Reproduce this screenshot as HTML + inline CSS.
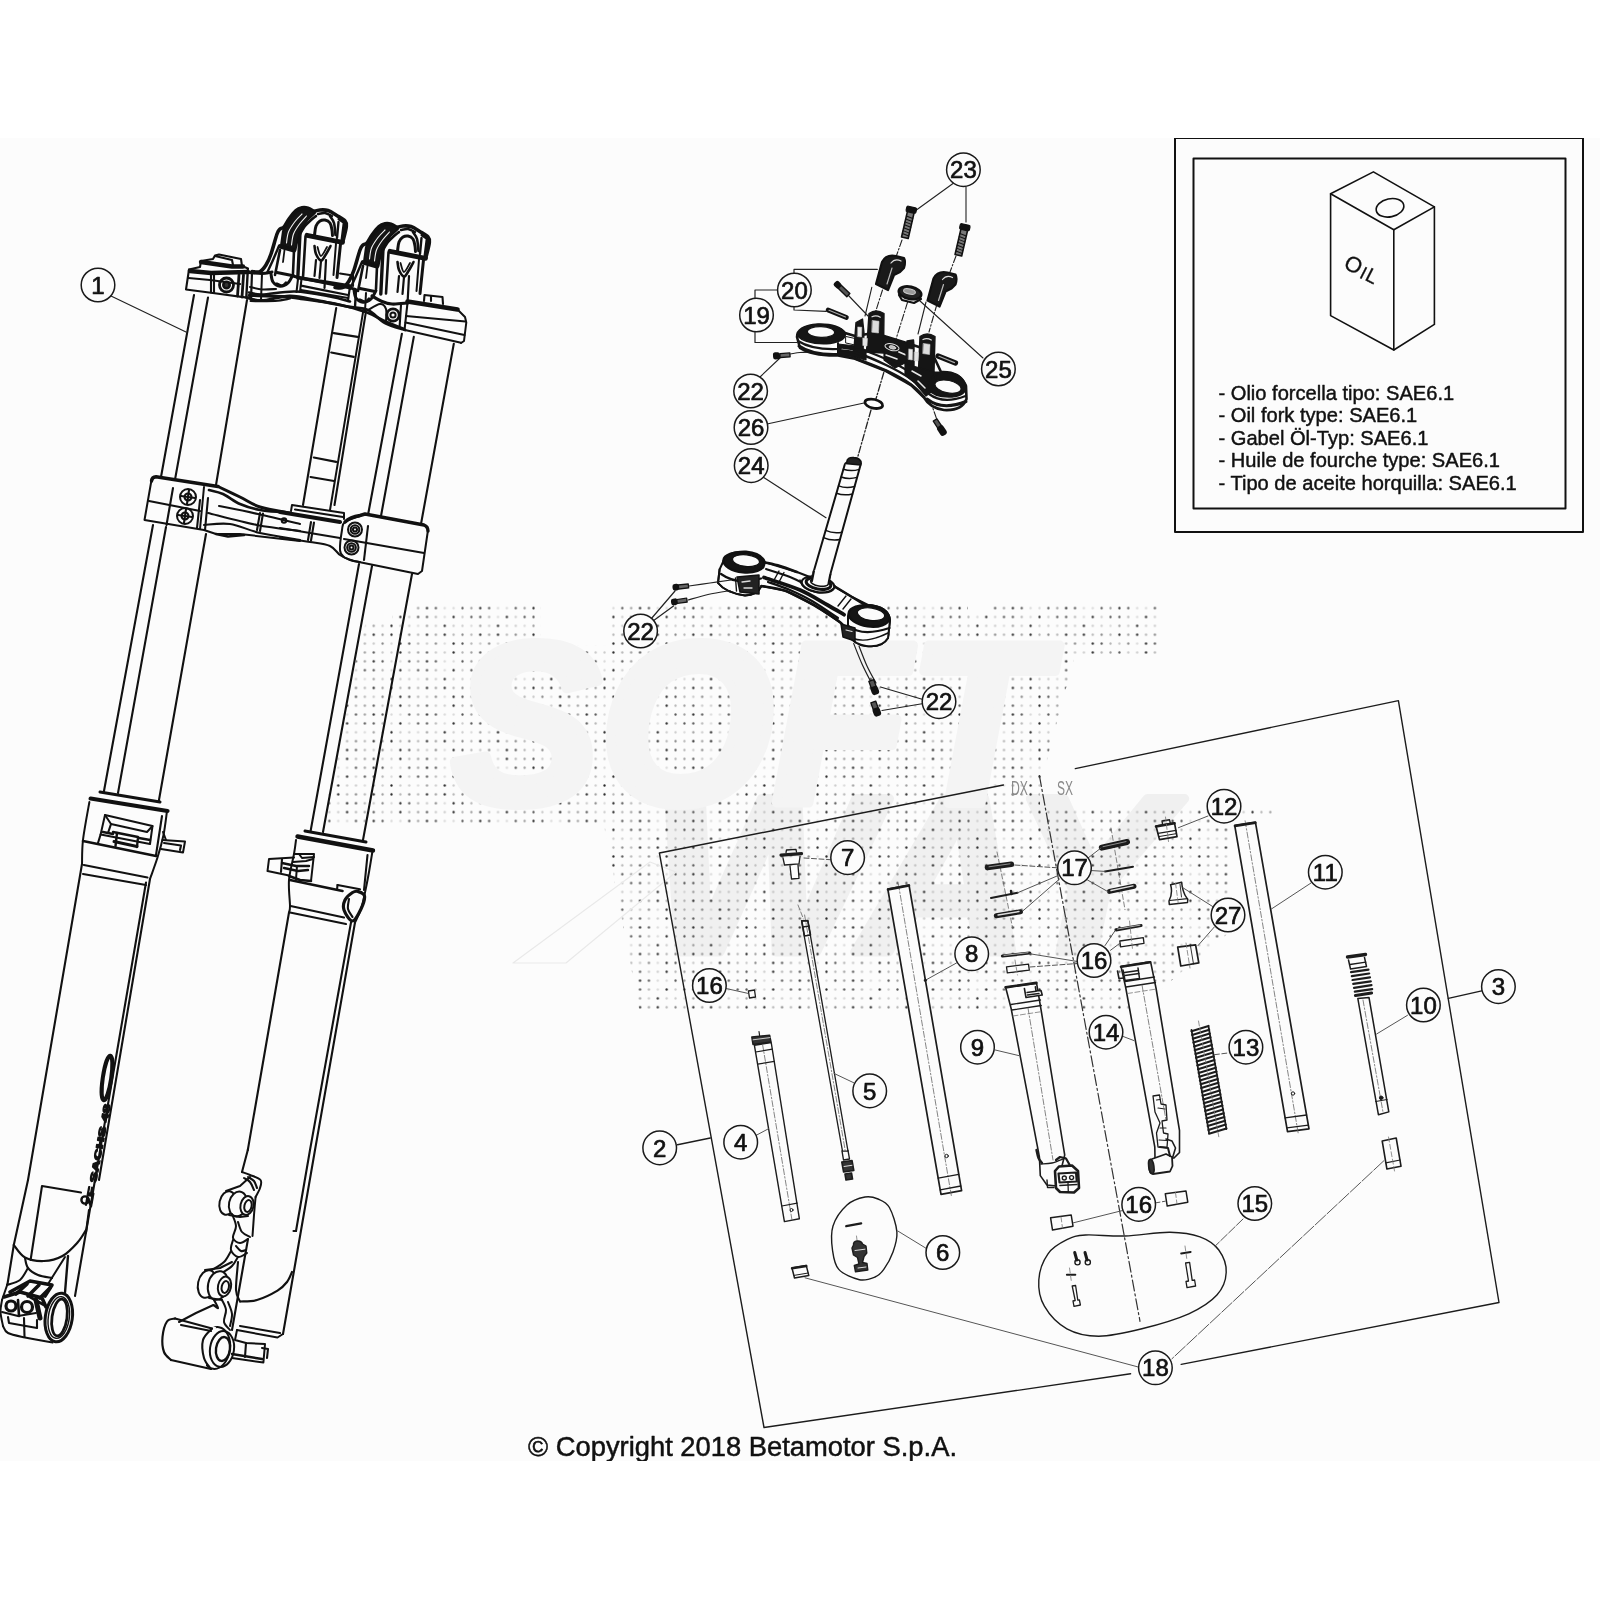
<!DOCTYPE html>
<html><head><meta charset="utf-8"><title>Fork diagram</title>
<style>
html,body{margin:0;padding:0;background:#fff;}
body{width:1600px;height:1600px;overflow:hidden;position:relative;font-family:"Liberation Sans",sans-serif;}
#band{position:absolute;left:0;top:138px;width:1600px;height:1323px;background:#fcfcfc;overflow:hidden;}
svg{position:absolute;left:0;top:-138px;will-change:transform;}
.lb{font-family:"Liberation Sans",sans-serif;font-size:24px;text-anchor:middle;fill:#111;stroke:#111;stroke-width:0.7px;}
.tx{font-family:"Liberation Sans",sans-serif;font-size:20.1px;fill:#111;stroke:#111;stroke-width:0.45px;}
.cp{font-family:"Liberation Sans",sans-serif;font-size:27.35px;fill:#111;stroke:#111;stroke-width:0.5px;}
</style></head><body>
<div id="band">
<svg width="1600" height="1600" viewBox="0 0 1600 1600" stroke-linecap="round" stroke-linejoin="round">
<defs><pattern id="dots" patternUnits="userSpaceOnUse" x="-3.54" y="0.51" width="53.262" height="53.220">
<g transform="translate(4.44 4.43)"><circle cx="0.00" cy="0.00" r="1.15" fill="#111" fill-opacity="0.22"/><circle cx="8.88" cy="0.00" r="1.15" fill="#111" fill-opacity="0.50"/><circle cx="17.75" cy="0.00" r="1.15" fill="#111" fill-opacity="0.15"/><circle cx="26.63" cy="0.00" r="1.15" fill="#111" fill-opacity="0.90"/><circle cx="35.51" cy="0.00" r="1.15" fill="#111" fill-opacity="0.70"/><circle cx="44.39" cy="0.00" r="1.15" fill="#111" fill-opacity="0.30"/><circle cx="0.00" cy="8.87" r="1.15" fill="#111" fill-opacity="0.70"/><circle cx="8.88" cy="8.87" r="1.15" fill="#111" fill-opacity="0.22"/><circle cx="17.75" cy="8.87" r="1.15" fill="#111" fill-opacity="0.20"/><circle cx="26.63" cy="8.87" r="1.15" fill="#111" fill-opacity="0.90"/><circle cx="35.51" cy="8.87" r="1.15" fill="#111" fill-opacity="0.30"/><circle cx="44.39" cy="8.87" r="1.15" fill="#111" fill-opacity="0.40"/><circle cx="0.00" cy="17.74" r="1.15" fill="#111" fill-opacity="0.90"/><circle cx="8.88" cy="17.74" r="1.15" fill="#111" fill-opacity="0.70"/><circle cx="17.75" cy="17.74" r="1.15" fill="#111" fill-opacity="0.15"/><circle cx="26.63" cy="17.74" r="1.15" fill="#111" fill-opacity="0.15"/><circle cx="35.51" cy="17.74" r="1.15" fill="#111" fill-opacity="0.70"/><circle cx="44.39" cy="17.74" r="1.15" fill="#111" fill-opacity="0.40"/><circle cx="0.00" cy="26.61" r="1.15" fill="#111" fill-opacity="0.70"/><circle cx="8.88" cy="26.61" r="1.15" fill="#111" fill-opacity="0.30"/><circle cx="17.75" cy="26.61" r="1.15" fill="#111" fill-opacity="0.15"/><circle cx="26.63" cy="26.61" r="1.15" fill="#111" fill-opacity="0.90"/><circle cx="35.51" cy="26.61" r="1.15" fill="#111" fill-opacity="0.20"/><circle cx="44.39" cy="26.61" r="1.15" fill="#111" fill-opacity="0.70"/><circle cx="0.00" cy="35.48" r="1.15" fill="#111" fill-opacity="0.40"/><circle cx="8.88" cy="35.48" r="1.15" fill="#111" fill-opacity="0.20"/><circle cx="17.75" cy="35.48" r="1.15" fill="#111" fill-opacity="0.90"/><circle cx="26.63" cy="35.48" r="1.15" fill="#111" fill-opacity="0.20"/><circle cx="35.51" cy="35.48" r="1.15" fill="#111" fill-opacity="0.20"/><circle cx="44.39" cy="35.48" r="1.15" fill="#111" fill-opacity="0.15"/><circle cx="0.00" cy="44.35" r="1.15" fill="#111" fill-opacity="0.90"/><circle cx="8.88" cy="44.35" r="1.15" fill="#111" fill-opacity="0.40"/><circle cx="17.75" cy="44.35" r="1.15" fill="#111" fill-opacity="0.90"/><circle cx="26.63" cy="44.35" r="1.15" fill="#111" fill-opacity="0.30"/><circle cx="35.51" cy="44.35" r="1.15" fill="#111" fill-opacity="0.50"/><circle cx="44.39" cy="44.35" r="1.15" fill="#111" fill-opacity="0.30"/></g>
</pattern></defs>
<text x="652" y="952" font-family="Liberation Sans, sans-serif" font-weight="bold" font-style="italic" font-size="222" fill="#f0f0f0" stroke="#f0f0f0" stroke-width="9" textLength="515" lengthAdjust="spacingAndGlyphs">WAY</text>
<path d="M416 603 L541 603 L541 645 L607 645 L607 603 L968 603 L968 612 L990 612 L990 603 L1158 603 L1158 655 L1075 655 L1052 740 L1040 790 L1040 806 L1275 806 L1275 815 L1232 815 L1232 930 L1160 990 L1160 1014 L640 1014 L604 826 L322 826 L340 740 L356 660 L366 621 L392 621 L392 612 L416 612 Z" fill="url(#dots)"/>
<text x="452" y="803" font-family="Liberation Sans, sans-serif" font-weight="bold" font-style="italic" font-size="228" fill="#f4f4f4" stroke="#f4f4f4" stroke-width="10" textLength="592" lengthAdjust="spacingAndGlyphs">SOFT</text>
<path d="M513 963 L566 963 L676 872 L650 862 Z" fill="none" stroke="#e9e9e9" stroke-width="1.2" />
<rect x="1175" y="138" width="408" height="394" fill="none" stroke="#111" stroke-width="2"/>
<rect x="1193.5" y="158.5" width="372" height="350" fill="none" stroke="#111" stroke-width="2"/>
<path d="M1373.4 171.9 L1330.6 193.8 L1393.8 229.7 L1434.4 206.9 Z" fill="none" stroke="#111" stroke-width="1.6" />
<path d="M1330.6 193.8 L1330.6 315.6 L1393.8 350 L1434.4 324.4 L1434.4 206.9" fill="none" stroke="#111" stroke-width="1.6" />
<line x1="1393.8" y1="229.7" x2="1393.8" y2="350" stroke="#111" stroke-width="1.6" />
<ellipse cx="1390" cy="207.8" rx="14" ry="9" fill="none" stroke="#111" stroke-width="1.6" transform="rotate(-12 1390 207.8)" />
<text transform="translate(1342.5 267.5) rotate(27)" font-family="Liberation Sans, sans-serif" font-size="20" fill="#111" stroke="#111" stroke-width="0.3"><tspan font-size="22">O</tspan><tspan dx="1.5" dy="1.5" font-size="18">I</tspan><tspan dx="1" dy="-0.5" font-size="20">L</tspan></text>
<text x="1218.5" y="400.0" class="tx">- Olio forcella tipo: SAE6.1</text>
<text x="1218.5" y="422.4" class="tx">- Oil fork type: SAE6.1</text>
<text x="1218.5" y="444.8" class="tx">- Gabel Öl-Typ: SAE6.1</text>
<text x="1218.5" y="467.2" class="tx">- Huile de fourche type: SAE6.1</text>
<text x="1218.5" y="489.6" class="tx">- Tipo de aceite horquilla: SAE6.1</text>
<text x="528" y="1456.3" class="cp">© Copyright 2018 Betamotor S.p.A.</text>
<line x1="194" y1="295" x2="161" y2="477" stroke="#111" stroke-width="2.1" />
<line x1="153" y1="525" x2="103.8" y2="792" stroke="#111" stroke-width="2.1" />
<line x1="208" y1="297.5" x2="175.3" y2="478" stroke="#111" stroke-width="2.1" />
<line x1="166" y1="527" x2="118" y2="793" stroke="#111" stroke-width="2.1" />
<line x1="247" y1="300" x2="216" y2="485" stroke="#111" stroke-width="2.1" />
<line x1="206" y1="534" x2="158.8" y2="801" stroke="#111" stroke-width="2.1" />
<line x1="401.9" y1="333.8" x2="368" y2="515" stroke="#111" stroke-width="2.1" />
<line x1="359" y1="564" x2="310.6" y2="831" stroke="#111" stroke-width="2.1" />
<line x1="413.8" y1="336.9" x2="381" y2="516" stroke="#111" stroke-width="2.1" />
<line x1="372" y1="566" x2="323" y2="832" stroke="#111" stroke-width="2.1" />
<line x1="453.8" y1="343.8" x2="421" y2="524" stroke="#111" stroke-width="2.1" />
<line x1="412" y1="574" x2="363" y2="840" stroke="#111" stroke-width="2.1" />
<line x1="336.2" y1="308.1" x2="303" y2="505" stroke="#111" stroke-width="2.1" />
<line x1="363.1" y1="311.9" x2="330" y2="510" stroke="#111" stroke-width="2" />
<line x1="365.6" y1="313.8" x2="334.5" y2="505" stroke="#111" stroke-width="2.1" />
<line x1="333.8" y1="333.1" x2="357.5" y2="336.9" stroke="#111" stroke-width="2.1" />
<line x1="331.2" y1="352.5" x2="353.8" y2="356.9" stroke="#111" stroke-width="2.1" />
<line x1="313.8" y1="457.5" x2="336.2" y2="461.9" stroke="#111" stroke-width="2.1" />
<line x1="310.5" y1="477" x2="334" y2="481" stroke="#111" stroke-width="2.1" />
<path d="M189 269.5 L186 289.5 L211 292.8 L247 297.6" fill="none" stroke="#111" stroke-width="2.1" />
<path d="M188.5 278 L210 280 L240 284" fill="none" stroke="#111" stroke-width="2.1" />
<path d="M189 269.5 L200 267 L201 261 L213 259 L215 255.5 L219 254.5 L241 259 L242 266 L248 268.5" fill="none" stroke="#111" stroke-width="2.1" />
<path d="M201 262 L232 266.5 L243 266.5" fill="none" stroke="#111" stroke-width="4.4" />
<path d="M190 271 L211 273 L248 272" fill="none" stroke="#111" stroke-width="4.6" />
<path d="M215 256 L232 260 L233 265" fill="none" stroke="#111" stroke-width="2.1" />
<line x1="211" y1="272" x2="211" y2="292.5" stroke="#111" stroke-width="2.1" />
<line x1="214" y1="273" x2="214" y2="293" stroke="#111" stroke-width="2.1" />
<circle cx="226.5" cy="285" r="7" fill="none" stroke="#111" stroke-width="2.8"/>
<circle cx="226.5" cy="285" r="3.2" fill="#333" stroke="#111" stroke-width="2.6"/>
<line x1="239" y1="275" x2="237.5" y2="296" stroke="#111" stroke-width="2.8" />
<line x1="243.5" y1="275" x2="242" y2="297" stroke="#111" stroke-width="2.8" />
<line x1="247.8" y1="270" x2="246.3" y2="297.5" stroke="#111" stroke-width="2.4" />
<path d="M247 297.6 C249.5 298.1 254.8 300.8 262 300.5 C269.2 300.2 280.3 295.9 290 296 C299.7 296.1 310 299.2 320 301 C330 302.8 342 305.5 350 307 C358 308.5 362.2 307.3 368 310 C373.8 312.7 378.8 319.7 385 323 C391.2 326.3 401.7 328.8 405 330" fill="none" stroke="#111" stroke-width="2.8" />
<path d="M249 292.5 C251.2 292.8 254.3 294.7 262 294.5 C269.7 294.3 283.7 291.2 295 291.5 C306.3 291.8 320.8 294.8 330 296.5 C339.2 298.2 346.7 300.7 350 301.5" fill="none" stroke="#111" stroke-width="2.6" />
<path d="M250 287 C252 287.4 257.7 289.2 262 289.5 C266.3 289.8 273.7 289.1 276 289" fill="none" stroke="#111" stroke-width="2.1" />
<path d="M300 278 L350 286" fill="none" stroke="#111" stroke-width="3.6" />
<path d="M301 290 L348 298" fill="none" stroke="#111" stroke-width="2.1" />
<path d="M298 279 L296.5 292" fill="none" stroke="#111" stroke-width="2.1" />
<path d="M301.5 279 L300 292" fill="none" stroke="#111" stroke-width="2.1" />
<path d="M350 286 L348 301" fill="none" stroke="#111" stroke-width="2.1" />
<path d="M249 272.5 C251.2 272.7 258.2 273.6 262 273.5 C265.8 273.4 270.3 272.2 272 272" fill="none" stroke="#111" stroke-width="3" />
<path d="M293 276 C294.3 276.3 291.8 276.1 301 278 C310.2 279.9 338.8 285.5 348 287.5 C357.2 289.5 354.7 289.6 356 290" fill="none" stroke="#111" stroke-width="3.2" />
<path d="M301 285.6 C308.8 287.2 340.2 293.4 348 295" fill="none" stroke="#111" stroke-width="2.2" />
<path d="M249 295.5 C254.6 295.7 273.8 296 282.5 296.5 C291.2 297 291.6 297.4 301 298.8 C310.4 300.1 327.8 302.2 338.8 304.5 C349.8 306.8 359.2 309.7 367 312.5 C374.8 315.3 379.4 318.8 385.6 321.5 C391.8 324.2 400.9 327.8 404 329" fill="none" stroke="#111" stroke-width="2.8" />
<path d="M250.6 301 C254.7 301 268.4 301.4 275 301 C281.6 300.6 287.5 298.9 290 298.5" fill="none" stroke="#111" stroke-width="2.2" />
<path d="M252 273 L251 299" fill="none" stroke="#111" stroke-width="2.2" />
<path d="M262 274 L261 300" fill="none" stroke="#111" stroke-width="2" />
<path d="M356 290 L355 307" fill="none" stroke="#111" stroke-width="2.4" />
<path d="M366 293 L365 311" fill="none" stroke="#111" stroke-width="2" />
<g transform="translate(0 0)">
<path d="M252 271.5 C253.3 271.5 257.7 272.6 260 271.5 C262.3 270.4 264.2 267.9 266 265 C267.8 262.1 269.2 259.2 271 254 C272.8 248.8 275.5 238.2 277 234 C278.5 229.8 278.8 230.2 280 229 C281.2 227.8 282.5 228.7 284 227 C285.5 225.3 287 221.8 289 219 C291 216.2 293.8 212.4 296 210.5 C298.2 208.6 300 208.2 302 207.8 C304 207.4 306 207.6 308 208.2 C310 208.8 313 210.9 314 211.5" fill="none" stroke="#111" stroke-width="3.6" />
<path d="M314 211.5 C315 211.2 317.7 210.2 320 210 C322.3 209.8 325.3 209.7 328 210.5 C330.7 211.3 333.2 213.2 336 215 C338.8 216.8 343.3 219.1 345 221 C346.7 222.9 346.6 223.2 346.3 226.5 C346 229.8 343.6 238.6 343 241" fill="none" stroke="#111" stroke-width="3.6" />
<path d="M267 273 C268 270.8 271 264.5 273 260 C275 255.5 278 248.3 279 246" fill="none" stroke="#111" stroke-width="2.4" />
<path d="M281 245.5 L283 231 L290 219.5 L297 211.5 L303 208.5 L309 209 L315 213 L308 219.5 L302 228 L298 238 L295.5 250 Z" fill="#151515" stroke="#111" stroke-width="2" />
<path d="M286.5 243 C286.8 241.2 287.1 235.6 288.5 232 C289.9 228.4 292.8 224.5 295 221.5 C297.2 218.5 300.8 215.2 302 214" fill="none" stroke="#f4f4f4" stroke-width="1.1" />
<path d="M291.5 245 C291.8 243.2 292.2 237.5 293.5 234 C294.8 230.5 297.3 227 299.5 224 C301.7 221 305.3 217.3 306.5 216" fill="none" stroke="#f4f4f4" stroke-width="1.1" />
<path d="M300 234 C300.8 232.7 303.2 228.3 305 226 C306.8 223.7 309.2 221.7 311 220 C312.8 218.3 315.2 216.7 316 216" fill="none" stroke="#111" stroke-width="2.6" />
<path d="M280 246.3 L294 250.3" fill="none" stroke="#111" stroke-width="4.4" />
<path d="M314.5 235 C314.8 233.5 315.1 228.3 316 226 C316.9 223.7 318.5 222 320 221 C321.5 220 323.3 219.7 325 220 C326.7 220.3 328.8 221.3 330 223 C331.2 224.7 331.6 227.9 332 230 C332.4 232.1 332.4 234.6 332.5 235.5" fill="none" stroke="#111" stroke-width="3" />
<path d="M330 216 C330.7 217.2 333.1 219.8 334 223 C334.9 226.2 335.2 233 335.5 235" fill="none" stroke="#111" stroke-width="2.6" />
<path d="M318 214 C319.2 213.8 322.7 212.7 325 213 C327.3 213.3 330.8 215.5 332 216" fill="none" stroke="#111" stroke-width="2.4" />
<path d="M307 235.3 L342.5 242.3" fill="none" stroke="#111" stroke-width="4.8" />
<path d="M339 219 L344.2 222.5 L342 240" fill="none" stroke="#111" stroke-width="3" />
<path d="M337 238 L338.5 222" fill="none" stroke="#111" stroke-width="2.4" />
<path d="M314.5 246 C314.8 247.3 314.9 251.6 316 254 C317.1 256.4 319.4 260.3 321 260.5 C322.6 260.7 323.9 257.4 325.5 255 C327.1 252.6 329.7 247.5 330.5 246" fill="none" stroke="#111" stroke-width="2.6" />
<path d="M317.5 247 C318.1 248.5 319.4 256 321 256 C322.6 256 326 248.5 327 247" fill="none" stroke="#111" stroke-width="1.8" />
<path d="M316 260 L314.5 276" fill="none" stroke="#111" stroke-width="2.2" />
<path d="M321 261 L319.5 278" fill="none" stroke="#111" stroke-width="2.2" />
<path d="M326 260 L324.5 288" fill="none" stroke="#111" stroke-width="2.2" />
<path d="M300 233 L297.8 278" fill="none" stroke="#111" stroke-width="3.4" />
<path d="M305.5 236.5 L303 277.5" fill="none" stroke="#111" stroke-width="2.6" />
<path d="M340.5 244 L337 277.5" fill="none" stroke="#111" stroke-width="3" />
<path d="M336 243.5 L333.5 275" fill="none" stroke="#111" stroke-width="2" />
<path d="M280 250 L275 275" fill="none" stroke="#111" stroke-width="2.6" />
<path d="M294 250.5 L293 273" fill="none" stroke="#111" stroke-width="2.6" />
<path d="M284.5 250 L283 262" fill="none" stroke="#111" stroke-width="1.8" />
<path d="M271 274 C271.3 275.3 271.5 279.9 273 282 C274.5 284.1 277.5 286.1 280 286.3 C282.5 286.5 285.8 285 288 283 C290.2 281 292.2 275.9 293 274.5" fill="none" stroke="#111" stroke-width="3" />
<path d="M277 283.5 C277.8 283.8 280.5 285.7 282 285.5 C283.5 285.3 285.3 283 286 282.5" fill="none" stroke="#111" stroke-width="2.2" />
<path d="M277 272.5 L292 275.5" fill="none" stroke="#111" stroke-width="3" />
</g>
<g transform="translate(83 16)">
<path d="M252 271.5 C253.3 271.5 257.7 272.6 260 271.5 C262.3 270.4 264.2 267.9 266 265 C267.8 262.1 269.2 259.2 271 254 C272.8 248.8 275.5 238.2 277 234 C278.5 229.8 278.8 230.2 280 229 C281.2 227.8 282.5 228.7 284 227 C285.5 225.3 287 221.8 289 219 C291 216.2 293.8 212.4 296 210.5 C298.2 208.6 300 208.2 302 207.8 C304 207.4 306 207.6 308 208.2 C310 208.8 313 210.9 314 211.5" fill="none" stroke="#111" stroke-width="3.6" />
<path d="M314 211.5 C315 211.2 317.7 210.2 320 210 C322.3 209.8 325.3 209.7 328 210.5 C330.7 211.3 333.2 213.2 336 215 C338.8 216.8 343.3 219.1 345 221 C346.7 222.9 346.6 223.2 346.3 226.5 C346 229.8 343.6 238.6 343 241" fill="none" stroke="#111" stroke-width="3.6" />
<path d="M267 273 C268 270.8 271 264.5 273 260 C275 255.5 278 248.3 279 246" fill="none" stroke="#111" stroke-width="2.4" />
<path d="M281 245.5 L283 231 L290 219.5 L297 211.5 L303 208.5 L309 209 L315 213 L308 219.5 L302 228 L298 238 L295.5 250 Z" fill="#151515" stroke="#111" stroke-width="2" />
<path d="M286.5 243 C286.8 241.2 287.1 235.6 288.5 232 C289.9 228.4 292.8 224.5 295 221.5 C297.2 218.5 300.8 215.2 302 214" fill="none" stroke="#f4f4f4" stroke-width="1.1" />
<path d="M291.5 245 C291.8 243.2 292.2 237.5 293.5 234 C294.8 230.5 297.3 227 299.5 224 C301.7 221 305.3 217.3 306.5 216" fill="none" stroke="#f4f4f4" stroke-width="1.1" />
<path d="M300 234 C300.8 232.7 303.2 228.3 305 226 C306.8 223.7 309.2 221.7 311 220 C312.8 218.3 315.2 216.7 316 216" fill="none" stroke="#111" stroke-width="2.6" />
<path d="M280 246.3 L294 250.3" fill="none" stroke="#111" stroke-width="4.4" />
<path d="M314.5 235 C314.8 233.5 315.1 228.3 316 226 C316.9 223.7 318.5 222 320 221 C321.5 220 323.3 219.7 325 220 C326.7 220.3 328.8 221.3 330 223 C331.2 224.7 331.6 227.9 332 230 C332.4 232.1 332.4 234.6 332.5 235.5" fill="none" stroke="#111" stroke-width="3" />
<path d="M330 216 C330.7 217.2 333.1 219.8 334 223 C334.9 226.2 335.2 233 335.5 235" fill="none" stroke="#111" stroke-width="2.6" />
<path d="M318 214 C319.2 213.8 322.7 212.7 325 213 C327.3 213.3 330.8 215.5 332 216" fill="none" stroke="#111" stroke-width="2.4" />
<path d="M307 235.3 L342.5 242.3" fill="none" stroke="#111" stroke-width="4.8" />
<path d="M339 219 L344.2 222.5 L342 240" fill="none" stroke="#111" stroke-width="3" />
<path d="M337 238 L338.5 222" fill="none" stroke="#111" stroke-width="2.4" />
<path d="M314.5 246 C314.8 247.3 314.9 251.6 316 254 C317.1 256.4 319.4 260.3 321 260.5 C322.6 260.7 323.9 257.4 325.5 255 C327.1 252.6 329.7 247.5 330.5 246" fill="none" stroke="#111" stroke-width="2.6" />
<path d="M317.5 247 C318.1 248.5 319.4 256 321 256 C322.6 256 326 248.5 327 247" fill="none" stroke="#111" stroke-width="1.8" />
<path d="M316 260 L314.5 276" fill="none" stroke="#111" stroke-width="2.2" />
<path d="M321 261 L319.5 278" fill="none" stroke="#111" stroke-width="2.2" />
<path d="M326 260 L324.5 288" fill="none" stroke="#111" stroke-width="2.2" />
<path d="M300 233 L297.8 278" fill="none" stroke="#111" stroke-width="3.4" />
<path d="M305.5 236.5 L303 277.5" fill="none" stroke="#111" stroke-width="2.6" />
<path d="M340.5 244 L337 277.5" fill="none" stroke="#111" stroke-width="3" />
<path d="M336 243.5 L333.5 275" fill="none" stroke="#111" stroke-width="2" />
<path d="M280 250 L275 275" fill="none" stroke="#111" stroke-width="2.6" />
<path d="M294 250.5 L293 273" fill="none" stroke="#111" stroke-width="2.6" />
<path d="M284.5 250 L283 262" fill="none" stroke="#111" stroke-width="1.8" />
<path d="M271 274 C271.3 275.3 271.5 279.9 273 282 C274.5 284.1 277.5 286.1 280 286.3 C282.5 286.5 285.8 285 288 283 C290.2 281 292.2 275.9 293 274.5" fill="none" stroke="#111" stroke-width="3" />
<path d="M277 283.5 C277.8 283.8 280.5 285.7 282 285.5 C283.5 285.3 285.3 283 286 282.5" fill="none" stroke="#111" stroke-width="2.2" />
<path d="M277 272.5 L292 275.5" fill="none" stroke="#111" stroke-width="3" />
</g>
<path d="M340 273.5 L353 275.5 L353 286" fill="none" stroke="#111" stroke-width="2.1" />
<path d="M407.5 301.5 L457.5 309.5" fill="none" stroke="#111" stroke-width="4.6" />
<path d="M424 301 L424.5 295 L442.5 297 L443 304" fill="none" stroke="#111" stroke-width="2.1" />
<path d="M431 296 L431 301" fill="none" stroke="#111" stroke-width="2.1" />
<path d="M457.5 309.5 L465 317 L466.3 322.5 L464 341 L461 343" fill="none" stroke="#111" stroke-width="2" />
<path d="M405 330 L461 342.8" fill="none" stroke="#111" stroke-width="2" />
<path d="M406 316 L465.5 321.5" fill="none" stroke="#111" stroke-width="2.1" />
<path d="M405.5 322.5 L464.5 335" fill="none" stroke="#111" stroke-width="2.1" />
<path d="M407.5 303 L404.5 330" fill="none" stroke="#111" stroke-width="2.1" />
<path d="M372 296 C373.5 296.8 377.7 299.7 381 301 C384.3 302.3 387.7 303.7 392 304 C396.3 304.3 404.5 303.2 407 303" fill="none" stroke="#111" stroke-width="3.2" />
<path d="M368 310 C370 309 377 304.2 380 304 C383 303.8 385 306 386 309 C387 312 386 319.8 386 322" fill="none" stroke="#111" stroke-width="2.1" />
<circle cx="393" cy="315" r="6.2" fill="none" stroke="#111" stroke-width="2.8"/>
<circle cx="393" cy="315" r="2.6" fill="none" stroke="#111" stroke-width="2"/>
<path d="M401 305 L399.5 328" fill="none" stroke="#111" stroke-width="2.1" />
<path d="M151.5 481 Q152 477 156 476.8 L218 486.5" fill="none" stroke="#111" stroke-width="3.4" />
<path d="M151.5 480 L144.5 520 L204 530 L216 534 L240 534 L300 541" fill="none" stroke="#111" stroke-width="2" />
<path d="M149 501 L200 511" fill="none" stroke="#111" stroke-width="2.1" />
<path d="M173 488 L166.5 525" fill="none" stroke="#111" stroke-width="2.1" />
<circle cx="188" cy="497" r="8" fill="none" stroke="#111" stroke-width="2"/>
<line x1="181" y1="496" x2="195" y2="498" stroke="#111" stroke-width="2.1" />
<line x1="189" y1="490" x2="187" y2="504" stroke="#111" stroke-width="2.1" />
<circle cx="188" cy="497" r="3.5" fill="none" stroke="#111" stroke-width="2.1"/>
<circle cx="185" cy="516" r="8" fill="none" stroke="#111" stroke-width="2"/>
<line x1="178" y1="515" x2="192" y2="517" stroke="#111" stroke-width="2.1" />
<line x1="186" y1="509" x2="184" y2="523" stroke="#111" stroke-width="2.1" />
<circle cx="185" cy="516" r="3.5" fill="none" stroke="#111" stroke-width="2.1"/>
<path d="M200 500 L197 528" fill="none" stroke="#111" stroke-width="2.1" />
<path d="M204 487 L200 529" fill="none" stroke="#111" stroke-width="2" />
<path d="M208 498 L205 530" fill="none" stroke="#111" stroke-width="2.1" />
<path d="M218 486.5 C221.7 488.2 233 493.6 240 497 C247 500.4 251.7 504.3 260 507 C268.3 509.7 285 512 290 513" fill="none" stroke="#111" stroke-width="3" />
<path d="M209 490 C211.3 490.7 217.8 491.7 223 494 C228.2 496.3 233.8 501.3 240 504 C246.2 506.7 253.3 508.7 260 510 C266.7 511.3 276.7 511.7 280 512" fill="none" stroke="#111" stroke-width="2.6" />
<path d="M219 506 C225.5 507.3 244.5 511 258 514 C271.5 517 293 522.3 300 524" fill="none" stroke="#111" stroke-width="2.1" />
<path d="M208 513 C216.2 515 241.7 522 257 525 C272.3 528 292.8 530 300 531" fill="none" stroke="#111" stroke-width="2.1" />
<path d="M204 525 C208.3 524.8 220.7 522.7 230 524 C239.3 525.3 248.3 530.3 260 533 C271.7 535.7 293.3 538.8 300 540" fill="none" stroke="#111" stroke-width="2.1" />
<path d="M260 513 L257 530" fill="none" stroke="#111" stroke-width="2.1" />
<path d="M263 513.5 L260 531" fill="none" stroke="#111" stroke-width="2.1" />
<path d="M216 534 L228 536.5 L244 535" fill="none" stroke="#111" stroke-width="2.6" />
<path d="M291 511 L292 505 L344 513 L344 519" fill="none" stroke="#111" stroke-width="2" />
<path d="M295 509.5 L343 517" fill="none" stroke="#111" stroke-width="2.1" />
<path d="M280 512 L340 522" fill="none" stroke="#111" stroke-width="4" />
<path d="M280 528 L340 538" fill="none" stroke="#111" stroke-width="2.1" />
<path d="M280 538 C285 538.7 301.7 540.7 310 542 C318.3 543.3 325 543.8 330 546 C335 548.2 336.7 552.7 340 555 C343.3 557.3 346.7 558.8 350 560 C353.3 561.2 358.3 561.7 360 562" fill="none" stroke="#111" stroke-width="2" />
<path d="M311 522 L308 540" fill="none" stroke="#111" stroke-width="2.1" />
<path d="M314 522.5 L311 540.5" fill="none" stroke="#111" stroke-width="2.1" />
<circle cx="284" cy="520.5" r="2.2" fill="none" stroke="#111" stroke-width="2.1"/>
<path d="M345 522 Q350 517 360 515.5 L365 514 L424 525 Q428 526.5 428 531" fill="none" stroke="#111" stroke-width="3.4" />
<path d="M428 530 L422 571 L418 574 L354 561" fill="none" stroke="#111" stroke-width="2" />
<path d="M360 516 C357.5 517 348 519.7 345 522 C342 524.3 342.8 525.3 342 530 C341.2 534.7 339.7 545.5 340 550 C340.3 554.5 341.7 555.2 344 557 C346.3 558.8 352.3 560.3 354 561" fill="none" stroke="#111" stroke-width="2" />
<path d="M344 539 L424 553" fill="none" stroke="#111" stroke-width="2.1" />
<path d="M368 526 L364 560" fill="none" stroke="#111" stroke-width="2.1" />
<circle cx="355" cy="529.5" r="7" fill="none" stroke="#111" stroke-width="2"/>
<circle cx="355" cy="529.5" r="4.3" fill="none" stroke="#111" stroke-width="2.1"/>
<circle cx="355" cy="529.5" r="2" fill="none" stroke="#111" stroke-width="2.1"/>
<circle cx="351.5" cy="547.5" r="7" fill="none" stroke="#111" stroke-width="2"/>
<circle cx="351.5" cy="547.5" r="4.3" fill="none" stroke="#111" stroke-width="2.1"/>
<circle cx="351.5" cy="547.5" r="2" fill="none" stroke="#111" stroke-width="2.1"/>
<path d="M100 792 L160 802" fill="none" stroke="#111" stroke-width="3" />
<path d="M90.6 798.5 L167.5 811" fill="none" stroke="#111" stroke-width="4.2" />
<path d="M89.4 802 C88.3 808.3 84.2 829.7 83 840 C81.8 850.3 82.2 860 82 864" fill="none" stroke="#111" stroke-width="2" />
<line x1="82" y1="864" x2="28" y2="1180" stroke="#111" stroke-width="2.1" />
<line x1="28" y1="1180" x2="13.8" y2="1245" stroke="#111" stroke-width="2.1" />
<line x1="13.8" y1="1245" x2="7.5" y2="1284" stroke="#111" stroke-width="2.1" />
<path d="M167 811 C166.4 815 165.1 827.2 163.5 835 C161.9 842.8 159.8 850.2 157.5 857.5 C155.2 864.8 151.2 875.4 150 879" fill="none" stroke="#111" stroke-width="2" />
<line x1="162" y1="816" x2="156" y2="855" stroke="#111" stroke-width="2.1" />
<line x1="150" y1="879" x2="99" y2="1180" stroke="#111" stroke-width="2.1" />
<line x1="146" y1="882.5" x2="95" y2="1180" stroke="#111" stroke-width="2.1" />
<line x1="95" y1="1180" x2="75" y2="1296" stroke="#111" stroke-width="2.1" />
<path d="M83 841 L156 856" fill="none" stroke="#111" stroke-width="2.6" />
<path d="M83.8 865 L147.5 877.5" fill="none" stroke="#111" stroke-width="2.1" />
<path d="M83 874 L146 885" fill="none" stroke="#111" stroke-width="2.1" />
<path d="M105 815 L152.5 826 L150 844 L100.6 834.5 Z" fill="none" stroke="#111" stroke-width="2" />
<path d="M105 815 L111 824 L147 832 L152.5 826" fill="none" stroke="#111" stroke-width="2" />
<path d="M111 824 L108 833" fill="none" stroke="#111" stroke-width="2.1" />
<path d="M100.6 834.5 L98 843" fill="none" stroke="#111" stroke-width="2.1" />
<path d="M113 832 L138 837 L137 847" fill="none" stroke="#111" stroke-width="2.4" />
<path d="M117 833 L115.5 846" fill="none" stroke="#111" stroke-width="2.4" />
<path d="M103 832 L113 834" fill="none" stroke="#111" stroke-width="2.4" />
<path d="M139 838 L150 840" fill="none" stroke="#111" stroke-width="2.4" />
<path d="M114 841.5 L137 846.5" fill="none" stroke="#111" stroke-width="3" />
<path d="M162.5 840 L185 841.5 L183 852.5 L161 849" fill="none" stroke="#111" stroke-width="2" />
<path d="M164 843 L181 845.5 L180 850" fill="none" stroke="#111" stroke-width="2.1" />
<path d="M163 832 L166 840" fill="none" stroke="#111" stroke-width="2" />
<ellipse cx="107" cy="1078" rx="4.2" ry="22.5" fill="none" stroke="#111" stroke-width="4" transform="rotate(8.5 107 1078)" />
<text transform="translate(91.5 1207) rotate(-79.5) scale(1 0.62)" font-family="Liberation Sans, sans-serif" font-weight="bold" font-size="15" fill="#111" stroke="#111" stroke-width="1.9" textLength="104" lengthAdjust="spacingAndGlyphs">ZF SACHS 48</text>
<path d="M30.6 1260 L42 1186 L81 1192.5" fill="none" stroke="#111" stroke-width="2.1" />
<line x1="89" y1="1210" x2="86" y2="1232.5" stroke="#111" stroke-width="2.1" />
<circle cx="85" cy="1200" r="3.6" fill="none" stroke="#111" stroke-width="2.4"/>
<path d="M13.8 1245 C15.6 1247.1 20 1254.8 25 1257.5 C30 1260.2 37.5 1261.2 43.8 1261 C50 1260.8 56.9 1259.1 62.5 1256 C68.1 1252.9 73.6 1246.8 77.5 1242.5 C81.4 1238.2 84.6 1232.1 86 1230" fill="none" stroke="#111" stroke-width="2.2" />
<ellipse cx="58.8" cy="1317.5" rx="13.5" ry="24.5" fill="#fcfcfc" stroke="#111" stroke-width="3" transform="rotate(8 58.8 1317.5)" />
<ellipse cx="58.8" cy="1317.5" rx="10.5" ry="21" fill="none" stroke="#111" stroke-width="1.4" transform="rotate(8 58.8 1317.5)" />
<ellipse cx="59.5" cy="1317.5" rx="7.5" ry="18.5" fill="none" stroke="#111" stroke-width="2.8" transform="rotate(8 59.5 1317.5)" />
<path d="M3 1326 C3.8 1327.2 4.3 1331.1 8 1333 C11.7 1334.9 17.6 1335.9 25 1337.5 C32.4 1339.1 47.9 1341.7 52.5 1342.5" fill="none" stroke="#111" stroke-width="2" />
<path d="M2 1300 C1.8 1302 0.3 1307.7 0.5 1312 C0.7 1316.3 2.6 1323.7 3 1326" fill="none" stroke="#111" stroke-width="2" />
<path d="M24 1318 L24.5 1337" fill="none" stroke="#111" stroke-width="2.1" />
<path d="M8 1317 L9 1323 L37 1328 L37 1320" fill="none" stroke="#111" stroke-width="2.1" />
<path d="M7.5 1284 L2 1300" fill="none" stroke="#111" stroke-width="2" />
<path d="M68 1256 L65 1292.5" fill="none" stroke="#111" stroke-width="2.4" />
<path d="M65 1257 L48 1284" fill="none" stroke="#111" stroke-width="2" />
<path d="M25 1258 C25.5 1259.7 25.8 1265.2 28 1268 C30.2 1270.8 34 1273.3 38 1275 C42 1276.7 49.7 1277.5 52 1278" fill="none" stroke="#111" stroke-width="2.1" />
<path d="M7 1285 C9.2 1284.2 16.5 1282.8 20 1280 C23.5 1277.2 26.7 1270 28 1268" fill="none" stroke="#111" stroke-width="2" />
<path d="M10 1292 L30 1281 L52 1285 L45 1296" fill="none" stroke="#111" stroke-width="3.6" />
<path d="M16 1294 L27 1284" fill="none" stroke="#111" stroke-width="3.6" />
<path d="M28 1296 L39 1285" fill="none" stroke="#111" stroke-width="3.6" />
<path d="M40 1298 L50 1288" fill="none" stroke="#111" stroke-width="3.6" />
<path d="M4 1297 L20 1292 L42 1298 L46 1307" fill="none" stroke="#111" stroke-width="3.6" />
<circle cx="11" cy="1306" r="5" fill="none" stroke="#111" stroke-width="3.2"/>
<circle cx="27" cy="1307" r="5.5" fill="none" stroke="#111" stroke-width="3.2"/>
<path d="M18 1300 L19 1316" fill="none" stroke="#111" stroke-width="2.6" />
<path d="M36 1300 L40 1318" fill="none" stroke="#111" stroke-width="5" />
<path d="M30 1297 L44 1305" fill="none" stroke="#111" stroke-width="2.6" />
<path d="M2 1312 L18 1316 L36 1313" fill="none" stroke="#111" stroke-width="2" />
<path d="M305 831 L366 842" fill="none" stroke="#111" stroke-width="3" />
<path d="M297.5 836.5 L373 850.5" fill="none" stroke="#111" stroke-width="4.4" />
<path d="M296 840 C295.7 842.3 295.2 847.3 294 854 C292.8 860.7 289.7 871.3 289 880 C288.3 888.7 290 900.6 290 906 C290 911.4 289.2 911.4 289 912.5" fill="none" stroke="#111" stroke-width="2" />
<line x1="289" y1="912.5" x2="247.8" y2="1150" stroke="#111" stroke-width="2.1" />
<line x1="247.8" y1="1150" x2="242" y2="1172" stroke="#111" stroke-width="2.1" />
<line x1="248" y1="1239" x2="232" y2="1330" stroke="#111" stroke-width="2.1" />
<path d="M372.5 851 C371.9 854.5 370.2 865.1 369 872 C367.8 878.9 366.3 886.3 365 892.5 C363.7 898.7 362.7 904 361 909 C359.3 914 356 920.2 355 922.5" fill="none" stroke="#111" stroke-width="2" />
<line x1="367.5" y1="855" x2="364" y2="890" stroke="#111" stroke-width="2.1" />
<line x1="351" y1="922.5" x2="310" y2="1150" stroke="#111" stroke-width="2.1" />
<line x1="310" y1="1150" x2="296" y2="1231" stroke="#111" stroke-width="2.1" />
<line x1="296" y1="1231" x2="293.5" y2="1231" stroke="#111" stroke-width="2.1" />
<line x1="355" y1="922.5" x2="315" y2="1150" stroke="#111" stroke-width="2.1" />
<line x1="315" y1="1150" x2="283" y2="1334" stroke="#111" stroke-width="2.1" />
<path d="M290 880 L342.5 891" fill="none" stroke="#111" stroke-width="2.6" />
<path d="M290.6 906 L344 917.5" fill="none" stroke="#111" stroke-width="2.1" />
<path d="M290 912.5 L346 924" fill="none" stroke="#111" stroke-width="2.1" />
<path d="M352.5 892.5 C350.3 893.9 346.4 897.1 345 900 C343.6 902.9 342.8 906.5 344 910 C345.2 913.5 349.7 921.2 352.5 921 C355.3 920.8 359 913.2 361 909 C363 904.8 365 898.9 364.5 896 C364 893.1 360 892.1 358 891.5 C356 890.9 354.7 891.1 352.5 892.5 Z" fill="none" stroke="#111" stroke-width="3.2" />
<path d="M349 899 C348.8 900.7 347.4 906 348 909 C348.6 912 351.8 915.7 352.5 917" fill="none" stroke="#111" stroke-width="2.1" />
<path d="M337.5 885 L360 889.3" fill="none" stroke="#111" stroke-width="2.1" />
<path d="M337.5 885 L337 890" fill="none" stroke="#111" stroke-width="2.1" />
<path d="M294 857.5 L269 859 L267.5 871 L289 875.5" fill="none" stroke="#111" stroke-width="2" />
<path d="M294 854 L314 854 L311 881" fill="none" stroke="#111" stroke-width="2" />
<path d="M299 854 L302 858 L314 857" fill="none" stroke="#111" stroke-width="2" />
<path d="M293 862 L306 861 L313 859" fill="none" stroke="#111" stroke-width="2" />
<path d="M282 863 L296 866 L309 866" fill="none" stroke="#111" stroke-width="2.4" />
<path d="M284 868 L298 871 L308 870" fill="none" stroke="#111" stroke-width="2.4" />
<path d="M282 859 L281 872" fill="none" stroke="#111" stroke-width="2.1" />
<path d="M297 866 L296 879" fill="none" stroke="#111" stroke-width="2" />
<path d="M289 876 L300 880 L311 881" fill="none" stroke="#111" stroke-width="2.6" />
<path d="M292 1272 C291.2 1273.7 289.4 1278.9 287 1282 C284.6 1285.1 282.5 1287.6 277.5 1290.6 C272.5 1293.6 263.2 1298.2 257 1300 C250.8 1301.8 242.8 1301.2 240 1301.5" fill="none" stroke="#111" stroke-width="2.2" />
<path d="M283 1334 L277.5 1337.5 L237 1330" fill="none" stroke="#111" stroke-width="2" />
<path d="M240 1326 L280 1333" fill="none" stroke="#111" stroke-width="2.1" />
<path d="M237 1330 L235 1340 L246 1343 L265 1344 L263.4 1362.5 L232 1358" fill="none" stroke="#111" stroke-width="2" />
<path d="M246 1343 L245 1357" fill="none" stroke="#111" stroke-width="2.1" />
<path d="M262 1348 L268 1349 L267 1358" fill="none" stroke="#111" stroke-width="2.1" />
<path d="M232 1354 L262 1359" fill="none" stroke="#111" stroke-width="2.4" />
<path d="M242 1172 C243.3 1172.5 246.9 1173.7 250 1175 C253.1 1176.3 258.8 1177.8 260.5 1180 C262.2 1182.2 260.8 1185.2 260 1188 C259.2 1190.8 256.3 1195.5 255.6 1197" fill="none" stroke="#111" stroke-width="2" />
<path d="M244 1178 C245 1178.7 248.3 1180 250 1182 C251.7 1184 253.3 1188.7 254 1190" fill="none" stroke="#111" stroke-width="2.1" />
<path d="M248 1177 C249 1177.7 252.5 1179.2 254 1181 C255.5 1182.8 256.5 1186.8 257 1188" fill="none" stroke="#111" stroke-width="2.1" />
<ellipse cx="227.5" cy="1203" rx="8" ry="12" fill="none" stroke="#111" stroke-width="2" transform="rotate(12 227.5 1203)" />
<ellipse cx="238" cy="1204" rx="9" ry="12.5" fill="#fcfcfc" stroke="#111" stroke-width="2" transform="rotate(12 238 1204)" />
<ellipse cx="247" cy="1205.5" rx="6.5" ry="9.5" fill="#fcfcfc" stroke="#111" stroke-width="2" transform="rotate(12 247 1205.5)" />
<ellipse cx="248" cy="1206" rx="3.6" ry="6" fill="none" stroke="#111" stroke-width="2" transform="rotate(12 248 1206)" />
<path d="M226 1191 L240 1186 L250 1177" fill="none" stroke="#111" stroke-width="2" />
<path d="M229 1215 L240 1217 L248 1216" fill="none" stroke="#111" stroke-width="2" />
<path d="M255.6 1197 C255.3 1200 254.5 1208.5 254 1215 C253.5 1221.5 252.8 1232.5 252.5 1236" fill="none" stroke="#111" stroke-width="2" />
<path d="M232 1214 C232.7 1216 235.8 1222 236 1226 C236.2 1230 232.3 1235.2 233 1238 C233.7 1240.8 237.5 1242.8 240 1243 C242.5 1243.2 246.7 1239.7 248 1239" fill="none" stroke="#111" stroke-width="2" />
<path d="M238 1222 C238.7 1223.7 240 1229.5 242 1232 C244 1234.5 248.7 1236.2 250 1237" fill="none" stroke="#111" stroke-width="2" />
<path d="M233 1240 C232.7 1241.7 230.2 1247.2 231 1250 C231.8 1252.8 235.3 1256.5 238 1257 C240.7 1257.5 245.5 1253.7 247 1253" fill="none" stroke="#111" stroke-width="2" />
<path d="M236 1246 C236.8 1246.8 239.3 1250.3 241 1251 C242.7 1251.7 245.2 1250.2 246 1250" fill="none" stroke="#111" stroke-width="2.1" />
<path d="M231 1251 C229.8 1252.8 227.2 1258.8 224 1262 C220.8 1265.2 214 1268.7 212 1270" fill="none" stroke="#111" stroke-width="2" />
<path d="M238 1257 C237 1258.5 234.7 1263.3 232 1266 C229.3 1268.7 223.7 1271.8 222 1273" fill="none" stroke="#111" stroke-width="2" />
<ellipse cx="207" cy="1284" rx="9" ry="14" fill="none" stroke="#111" stroke-width="2" transform="rotate(12 207 1284)" />
<ellipse cx="218" cy="1285.5" rx="10" ry="14.5" fill="#fcfcfc" stroke="#111" stroke-width="2" transform="rotate(12 218 1285.5)" />
<ellipse cx="224.5" cy="1286.5" rx="6.5" ry="10" fill="#fcfcfc" stroke="#111" stroke-width="2" transform="rotate(12 224.5 1286.5)" />
<ellipse cx="225.3" cy="1287" rx="3.6" ry="6" fill="none" stroke="#111" stroke-width="2" transform="rotate(12 225.3 1287)" />
<path d="M205 1270 L220 1268 L232 1262" fill="none" stroke="#111" stroke-width="2" />
<path d="M209 1298 L222 1300" fill="none" stroke="#111" stroke-width="2" />
<path d="M240 1301.5 C239.3 1299.6 236.3 1296.6 236 1290 C235.7 1283.4 237.7 1266.7 238 1262" fill="none" stroke="#111" stroke-width="2.1" />
<path d="M222 1300 C222.7 1301.7 225.7 1306.3 226 1310 C226.3 1313.7 223.3 1318.7 224 1322 C224.7 1325.3 229 1328.7 230 1330" fill="none" stroke="#111" stroke-width="2" />
<path d="M228 1302 C228.7 1304 231.7 1310 232 1314 C232.3 1318 230.3 1324 230 1326" fill="none" stroke="#111" stroke-width="2" />
<path d="M214 1300 C214.7 1301.3 218.1 1307.2 218 1308 C217.9 1308.8 214.2 1305.5 213.4 1305" fill="none" stroke="#111" stroke-width="2.1" />
<ellipse cx="216" cy="1348" rx="14" ry="21" fill="#fcfcfc" stroke="#111" stroke-width="2" transform="rotate(8 216 1348)" />
<rect x="172" y="1321" width="40" height="42" fill="#fcfcfc" stroke="none" transform="rotate(15 190 1340)"/>
<path d="M175 1318.5 C173.7 1319 169.1 1318.4 167 1321.5 C164.9 1324.6 163 1331.9 162.5 1337 C162 1342.1 162.6 1348.2 164 1352 C165.4 1355.8 169.8 1358.7 171 1360" fill="none" stroke="#111" stroke-width="2.2" />
<path d="M175 1318.5 L212 1328.5" fill="none" stroke="#111" stroke-width="2.2" />
<path d="M171 1360 L211 1369" fill="none" stroke="#111" stroke-width="2.2" />
<path d="M212 1328.5 C210.5 1330.4 204.3 1335.1 203 1340 C201.7 1344.9 202.7 1353.2 204 1358 C205.3 1362.8 209.8 1367.2 211 1369" fill="none" stroke="#111" stroke-width="2.1" />
<ellipse cx="222" cy="1349" rx="12" ry="18" fill="none" stroke="#111" stroke-width="2" transform="rotate(8 222 1349)" />
<ellipse cx="223" cy="1349" rx="7" ry="12" fill="none" stroke="#111" stroke-width="2.4" transform="rotate(8 223 1349)" />
<path d="M179 1322 L196 1313 L213.4 1305" fill="none" stroke="#111" stroke-width="2" />
<path d="M181 1325 L211 1331" fill="none" stroke="#111" stroke-width="2.1" />
<line x1="953" y1="183.5" x2="915" y2="211" stroke="#222" stroke-width="1.1" />
<line x1="966" y1="187" x2="966" y2="222" stroke="#222" stroke-width="1.1" />
<line x1="902" y1="240" x2="896" y2="257" stroke="#222" stroke-width="1.1" stroke-dasharray="7 2 1.5 2"/>
<line x1="871.8" y1="287.3" x2="865" y2="316" stroke="#222" stroke-width="1.1" />
<line x1="882.5" y1="290" x2="875.5" y2="312" stroke="#222" stroke-width="1.1" stroke-dasharray="7 2 1.5 2"/>
<line x1="956" y1="256" x2="950" y2="272" stroke="#222" stroke-width="1.1" stroke-dasharray="7 2 1.5 2"/>
<line x1="926" y1="302" x2="918" y2="334" stroke="#222" stroke-width="1.1" />
<line x1="937" y1="304" x2="929" y2="332" stroke="#222" stroke-width="1.1" stroke-dasharray="7 2 1.5 2"/>
<line x1="907.5" y1="302.4" x2="895" y2="342.3" stroke="#222" stroke-width="1.1" stroke-dasharray="7 2 1.5 2"/>
<line x1="883.8" y1="372.5" x2="876" y2="398.8" stroke="#222" stroke-width="1.3" stroke-dasharray="7 2 1.5 2"/>
<line x1="871" y1="410" x2="858" y2="456" stroke="#222" stroke-width="1.3" stroke-dasharray="7 2 1.5 2"/>
<line x1="920" y1="301" x2="983" y2="358" stroke="#222" stroke-width="1.1" />
<line x1="848.5" y1="295.5" x2="868" y2="316" stroke="#222" stroke-width="1.1" />
<line x1="884" y1="338" x2="900" y2="350" stroke="#222" stroke-width="1.1" />
<path d="M794 273.5 L794 269.4 L877.3 269.4" fill="none" stroke="#222" stroke-width="1.2" />
<path d="M794 306.5 L794 310 L826 311.4" fill="none" stroke="#222" stroke-width="1.2" />
<path d="M777 290 L755 290 L755 298" fill="none" stroke="#222" stroke-width="1.2" />
<path d="M755 332 L755 342.5 L797 342.5" fill="none" stroke="#222" stroke-width="1.2" />
<line x1="760" y1="377" x2="780" y2="358" stroke="#222" stroke-width="1.1" />
<path d="M790.6 354 C792.2 353.8 796.6 352.8 800 352.5 C803.4 352.2 809.2 352.1 811 352" fill="none" stroke="#222" stroke-width="1.1" />
<line x1="767" y1="424" x2="864" y2="403" stroke="#222" stroke-width="1.2" />
<line x1="763" y1="477" x2="826" y2="517.7" stroke="#222" stroke-width="1.2" />
<line x1="930" y1="400" x2="937" y2="420" stroke="#222" stroke-width="1.1" stroke-dasharray="7 2 1.5 2"/>
<g transform="translate(911.5 209) rotate(13)">
<rect x="-5" y="-2" width="10" height="5.5" rx="1.5" fill="#111" stroke="#111" stroke-width="1.2"/>
<rect x="-3.4" y="3.5" width="6.8" height="26" fill="#777" stroke="#111" stroke-width="1.6"/>
<line x1="-3.4" y1="8" x2="3.4" y2="9" stroke="#111" stroke-width="1"/>
<line x1="-3.4" y1="11" x2="3.4" y2="12" stroke="#111" stroke-width="1"/>
<line x1="-3.4" y1="14" x2="3.4" y2="15" stroke="#111" stroke-width="1"/>
<line x1="-3.4" y1="17" x2="3.4" y2="18" stroke="#111" stroke-width="1"/>
<line x1="-3.4" y1="20" x2="3.4" y2="21" stroke="#111" stroke-width="1"/>
<line x1="-3.4" y1="23" x2="3.4" y2="24" stroke="#111" stroke-width="1"/>
<line x1="-3.4" y1="26" x2="3.4" y2="27" stroke="#111" stroke-width="1"/>
</g>
<g transform="translate(965 226.5) rotate(13)">
<rect x="-5" y="-2" width="10" height="5.5" rx="1.5" fill="#111" stroke="#111" stroke-width="1.2"/>
<rect x="-3.4" y="3.5" width="6.8" height="26" fill="#777" stroke="#111" stroke-width="1.6"/>
<line x1="-3.4" y1="8" x2="3.4" y2="9" stroke="#111" stroke-width="1"/>
<line x1="-3.4" y1="11" x2="3.4" y2="12" stroke="#111" stroke-width="1"/>
<line x1="-3.4" y1="14" x2="3.4" y2="15" stroke="#111" stroke-width="1"/>
<line x1="-3.4" y1="17" x2="3.4" y2="18" stroke="#111" stroke-width="1"/>
<line x1="-3.4" y1="20" x2="3.4" y2="21" stroke="#111" stroke-width="1"/>
<line x1="-3.4" y1="23" x2="3.4" y2="24" stroke="#111" stroke-width="1"/>
<line x1="-3.4" y1="26" x2="3.4" y2="27" stroke="#111" stroke-width="1"/>
</g>
<g transform="translate(0 0)">
<path d="M876 284 L882 262 Q886 254 896 256 L904 258 Q906 262 904 268 L900 272 L894 275 L888 290 Z" fill="#1a1a1a" stroke="#111" stroke-width="2.2" />
<path d="M891 263 Q895 258 901 261" fill="none" stroke="#ddd" stroke-width="1.2" />
<path d="M887 284 L892 268" fill="none" stroke="#bbb" stroke-width="1.2" />
</g>
<g transform="translate(51.5 16.5)">
<path d="M876 284 L882 262 Q886 254 896 256 L904 258 Q906 262 904 268 L900 272 L894 275 L888 290 Z" fill="#1a1a1a" stroke="#111" stroke-width="2.2" />
<path d="M891 263 Q895 258 901 261" fill="none" stroke="#ddd" stroke-width="1.2" />
<path d="M887 284 L892 268" fill="none" stroke="#bbb" stroke-width="1.2" />
</g>
<ellipse cx="910" cy="292.8" rx="11.5" ry="6.2" fill="#222" stroke="#111" stroke-width="2.4" transform="rotate(12 910 292.8)" />
<ellipse cx="909.5" cy="291.5" rx="6" ry="2.6" fill="#999" stroke="#ccc" stroke-width="1" transform="rotate(12 909.5 291.5)" />
<path d="M899 295 L902 300 L914 303 L921 299" fill="none" stroke="#111" stroke-width="2.2" />
<g transform="translate(841.5 288.5) rotate(-46)"><rect x="-3.2" y="-9" width="6.4" height="7" rx="2" fill="#111"/><rect x="-2.2" y="-2.5" width="4.4" height="12" fill="#555" stroke="#111" stroke-width="1.4"/></g>
<line x1="828" y1="310" x2="846.5" y2="317.5" stroke="#111" stroke-width="4.6" />
<line x1="829" y1="310.3" x2="845.5" y2="317" stroke="#aaa" stroke-width="1.2" />
<line x1="938" y1="356" x2="955.5" y2="363" stroke="#111" stroke-width="5.2" />
<line x1="939" y1="356.3" x2="954.5" y2="362.6" stroke="#aaa" stroke-width="1.2" />
<g transform="translate(781 355.5) rotate(-4)"><rect x="-8" y="-3.6" width="7" height="7.2" rx="2.5" fill="#111"/><rect x="-1" y="-2" width="10" height="4" fill="#666" stroke="#111" stroke-width="1.3"/></g>
<g transform="translate(940 427.5) rotate(-33)"><rect x="-3.6" y="-2" width="7.2" height="11" rx="3" fill="#111"/><rect x="-2.2" y="-9" width="4.4" height="8" fill="#555" stroke="#111" stroke-width="1.3"/></g>
<path d="M797 337 Q797 326 818 324.5 Q838 324 845 333 L855 336 L867.5 334 L884 336 L905 342.5 L919 347 L934 357 L941 372 Q960 371 966 386 L966.5 399 Q962 411 944 410 Q930 408 924 397.5 L911 385 L886 371 L855 358.75 L838 355.5 Q812 356 800 348 Z" fill="#fcfcfc" stroke="#151515" stroke-width="2.6" />
<path d="M797.5 336 Q798 326 818 324.5 Q838 324 845.5 333 Q846 341 830 343.5 Q806 345 797.5 336 Z" fill="#151515" stroke="#151515" stroke-width="1.5" />
<ellipse cx="821" cy="332" rx="13.6" ry="5.4" fill="#fcfcfc" stroke="#151515" stroke-width="1.2" transform="rotate(2 821 332)" />
<path d="M798 341 Q812 350 838 349" fill="none" stroke="#151515" stroke-width="2.2" />
<path d="M799 346 Q813 355.5 838 354.5" fill="none" stroke="#151515" stroke-width="3" />
<path d="M838 343 L838 355" fill="none" stroke="#151515" stroke-width="2" />
<path d="M838 344 L856 346 L866 350 L866 360 L855 357.5 L838 355 Z" fill="#151515" stroke="#151515" stroke-width="1.2" />
<path d="M846 336.5 L855 338.5 L855 345 L846 343 Z" fill="#fcfcfc" stroke="#151515" stroke-width="1" />
<path d="M842 349.5 L852 351" fill="none" stroke="#eee" stroke-width="1.6" />
<path d="M854 349 L856 322.5 L862.5 319 L864 333 L863 350 Z" fill="#151515" stroke="#151515" stroke-width="1.4" />
<path d="M858 327 L861.8 327.3 L861.5 337 L857.6 336.6 Z" fill="#e8e8e8" stroke="#ccc" stroke-width="0.6" />
<path d="M866.5 352 L869 313.5 Q876 308.5 884 313.5 L883.5 353 Z" fill="#151515" stroke="#151515" stroke-width="1.4" />
<path d="M872.5 320.5 L879 321.3 L878.5 333 L872 332.2 Z" fill="#dcdcdc" stroke="#ccc" stroke-width="0.6" />
<path d="M872 316.8 Q876 314.8 880.3 317.2" fill="none" stroke="#ddd" stroke-width="1.2" />
<path d="M863 338 L867.5 338.5 L867 346 L863 345.5 Z" fill="#e4e4e4" stroke="#ccc" stroke-width="0.6" />
<path d="M884 336 L905 342.5 L913 346 L913 366 L905 363 L895 368 L884 360 Z" fill="#151515" stroke="#151515" stroke-width="1.2" />
<ellipse cx="892" cy="347.2" rx="7.2" ry="3.3" fill="none" stroke="#e4e4e4" stroke-width="1" transform="rotate(14 892 347.2)" />
<ellipse cx="892.4" cy="347.4" rx="3.4" ry="1.6" fill="#bbb" stroke="#ddd" stroke-width="0.8" transform="rotate(14 892.4 347.4)" />
<path d="M886 355 L897 359" fill="none" stroke="#e8e8e8" stroke-width="1.5" />
<path d="M899 352 L906 355" fill="none" stroke="#e8e8e8" stroke-width="1.8" />
<path d="M905.5 365 L907 341 L913.5 340 L914 346 L914 367 Z" fill="#151515" stroke="#151515" stroke-width="1.4" />
<path d="M909 349 L912.6 349.6 L912.3 360 L908.6 359.4 Z" fill="#e8e8e8" stroke="#ccc" stroke-width="0.6" />
<path d="M918.5 370 L920 336.5 Q927 331.5 935 336.5 L934 372 Z" fill="#151515" stroke="#151515" stroke-width="1.4" />
<path d="M923.5 343.5 L930 344.4 L929.5 354.5 L923 353.6 Z" fill="#dcdcdc" stroke="#ccc" stroke-width="0.6" />
<path d="M923 339.5 Q927 337.5 931.3 340" fill="none" stroke="#ddd" stroke-width="1.2" />
<path d="M914.5 352 L918.5 352.5 L918 361 L914.3 360.5 Z" fill="#e4e4e4" stroke="#ccc" stroke-width="0.6" />
<path d="M838 350 C841.2 350.5 849 350.5 857 353 C865 355.5 877 360.7 886 365 C895 369.3 904.3 374.3 911 379 C917.7 383.7 923.5 390.7 926 393" fill="none" stroke="#151515" stroke-width="2.4" />
<path d="M866 351 C869.7 352.5 880.3 356.3 888 360 C895.7 363.7 908 370.8 912 373" fill="none" stroke="#151515" stroke-width="2.2" />
<path d="M855 358.2 C860.2 360.3 876.7 366.2 886 370.6 C895.3 375 904.7 380.2 911 384.6 C917.3 389 921.8 394.9 924 397" fill="none" stroke="#151515" stroke-width="2.8" />
<path d="M913 366 L934 372 L941 372 L934 380 L931 392 L926 396 L915 383 L905 375 L905 363 Z" fill="#151515" stroke="#151515" stroke-width="1.2" />
<path d="M912 371 L921 376" fill="none" stroke="#e8e8e8" stroke-width="1.5" />
<path d="M918 381 L925 388" fill="none" stroke="#e8e8e8" stroke-width="1.5" />
<path d="M927.5 388 Q929 373.5 945 372.5 Q962 372.5 966 386 Q966 396 952 397 Q934 398 927.5 388 Z" fill="#151515" stroke="#151515" stroke-width="1.5" />
<ellipse cx="948" cy="386.6" rx="13.3" ry="6.2" fill="#fcfcfc" stroke="#151515" stroke-width="1.2" transform="rotate(12 948 386.6)" />
<path d="M929 394 Q943 404.5 965.5 396" fill="none" stroke="#151515" stroke-width="2.2" />
<path d="M927 399 Q942 411 966 401.5" fill="none" stroke="#151515" stroke-width="3" />
<path d="M934 372.5 L936 379" fill="none" stroke="#151515" stroke-width="2" />
<ellipse cx="873.8" cy="403.8" rx="9" ry="4.4" fill="none" stroke="#111" stroke-width="2.8" transform="rotate(12 873.8 403.8)" />
<path d="M844.7 464.8 L812.4 576 L829 579 L860.6 464.8 Z" fill="#fcfcfc" stroke="#fcfcfc" stroke-width="1" />
<line x1="844.7" y1="464.8" x2="812.4" y2="576" stroke="#111" stroke-width="2" />
<line x1="860.6" y1="464.8" x2="829" y2="579" stroke="#111" stroke-width="2" />
<path d="M846.8 462 Q847 457 854 457.6 Q861 458 861.2 463.5 L860.6 465 L845 463.5 Z" fill="#222" stroke="#111" stroke-width="1.6" />
<path d="M843.4 469.2 Q850.8 471.9 859.3 469.4" fill="none" stroke="#111" stroke-width="1.5" />
<path d="M841.1 477.0 Q848.5 479.8 857.1 477.4" fill="none" stroke="#111" stroke-width="1.5" />
<path d="M838.6 485.9 Q846.0 488.8 854.6 486.5" fill="none" stroke="#111" stroke-width="1.5" />
<path d="M836.5 493.2 Q843.9 496.1 852.5 493.9" fill="none" stroke="#111" stroke-width="1.5" />
<path d="M825.6 530.4 Q833.2 533.9 842.0 532.2" fill="none" stroke="#111" stroke-width="1.5" />
<path d="M823.5 537.6 Q831.1 541.2 839.9 539.6" fill="none" stroke="#111" stroke-width="1.5" />
<path d="M723 562 Q727 551 746 551.5 Q762 553 765 562.4 L797 572 L815 579 L833 585.8 L852 597 Q864 603 868 605 Q888 606 890 620 L888 638 Q882 648 866 646 Q852 644 848 632.6 L841 623 L813.8 605 L786 591 L761.5 586 Q757 595 745 595.4 Q726 593 718 583 L719.6 569.3 Z" fill="#fcfcfc" stroke="#111" stroke-width="2" />
<ellipse cx="743.8" cy="562.4" rx="20.5" ry="10" fill="#151515" stroke="#111" stroke-width="2.4" transform="rotate(6 743.8 562.4)" />
<ellipse cx="746" cy="560.6" rx="13.6" ry="5.8" fill="#fcfcfc" stroke="#111" stroke-width="1.2" transform="rotate(6 746 560.6)" />
<path d="M721 574 Q738 586 761 578.5" fill="none" stroke="#111" stroke-width="2.2" />
<path d="M719.6 569.3 L718 583 Q726 593 745 595.4 Q757 595 761.5 586" fill="none" stroke="#111" stroke-width="2" />
<path d="M737 577 L759 575 L759 594 L740 592 Z" fill="#222" stroke="#111" stroke-width="1.5" />
<path d="M742 582 L750 581" fill="none" stroke="#ddd" stroke-width="1.3" />
<path d="M744 588 L752 588" fill="none" stroke="#ddd" stroke-width="1.3" />
<line x1="735.5" y1="578" x2="736.5" y2="591" stroke="#111" stroke-width="1.4" />
<path d="M764 577.5 C770 579.6 789.4 585.4 800 590 C810.6 594.6 820.2 600.9 827.5 605 C834.8 609.1 841.2 613.1 844 614.7" fill="none" stroke="#111" stroke-width="3.8" />
<path d="M765 562.4 C767.5 563 774.7 564.4 780 566 C785.3 567.6 794.2 571 797 572" fill="none" stroke="#111" stroke-width="2.6" />
<path d="M761.5 586 C765.6 586.8 777.3 587.8 786 591 C794.7 594.2 804.6 599.7 813.8 605 C823 610.3 835.3 618.4 841 623 C846.7 627.6 846.8 631 848 632.6" fill="none" stroke="#111" stroke-width="2.6" />
<path d="M766 569 C770 570.3 783 574.2 790 577 C797 579.8 805 584.5 808 586" fill="none" stroke="#111" stroke-width="2" />
<path d="M768 582 C771.7 583.3 782.7 586.8 790 590 C797.3 593.2 804 596.3 812 601 C820 605.7 833.7 615.2 838 618" fill="none" stroke="#111" stroke-width="2.2" />
<line x1="779" y1="571" x2="773" y2="582" stroke="#111" stroke-width="1.4" />
<line x1="784" y1="572.5" x2="778" y2="584" stroke="#111" stroke-width="1.4" />
<line x1="846" y1="596" x2="838" y2="606" stroke="#111" stroke-width="1.4" />
<line x1="851" y1="599" x2="843" y2="609" stroke="#111" stroke-width="1.4" />
<path d="M834 586 C837 587.8 847.2 594 852 597 C856.8 600 861.2 602.6 863 603.7" fill="none" stroke="#111" stroke-width="2.6" />
<ellipse cx="818" cy="584.5" rx="16.5" ry="7.8" fill="#fcfcfc" stroke="#111" stroke-width="2.2" transform="rotate(10 818 584.5)" />
<ellipse cx="818.5" cy="583.5" rx="12.5" ry="5.6" fill="none" stroke="#111" stroke-width="3" transform="rotate(10 818.5 583.5)" />
<ellipse cx="819.5" cy="582.3" rx="9" ry="3.8" fill="#fcfcfc" stroke="#111" stroke-width="1.6" transform="rotate(10 819.5 582.3)" />
<path d="M813.8 571 L812.4 576 L812.6 581 L828.6 583.5 L829 579 L830.4 574 Z" fill="#fcfcfc" stroke="#fcfcfc" stroke-width="1" />
<line x1="813.9" y1="571" x2="811.9" y2="581" stroke="#111" stroke-width="2.2" />
<line x1="830.4" y1="574" x2="828.6" y2="583.5" stroke="#111" stroke-width="2.2" />
<path d="M800 580 Q802 590 818 592.5 Q832 593 835 586" fill="none" stroke="#111" stroke-width="1.4" />
<path d="M848 616 Q850 606 868 605 Q888 606 890 620 L888 638 Q882 648 866 646 Q852 644 848 632.6 Z" fill="#fcfcfc" stroke="#111" stroke-width="2" />
<ellipse cx="869" cy="616" rx="20.5" ry="10.5" fill="#151515" stroke="#111" stroke-width="2.4" transform="rotate(8 869 616)" />
<ellipse cx="871" cy="614.2" rx="13.8" ry="6.2" fill="#fcfcfc" stroke="#111" stroke-width="1.2" transform="rotate(8 871 614.2)" />
<path d="M848.5 626 Q862 637 889.5 628" fill="none" stroke="#111" stroke-width="2.2" />
<path d="M852 638 Q866 644 888 633" fill="none" stroke="#111" stroke-width="1.4" />
<path d="M841 624 L855 628 L855 641 L843 637 Z" fill="#222" stroke="#111" stroke-width="1.5" />
<path d="M846 630 L852 631.5" fill="none" stroke="#ddd" stroke-width="1.2" />
<g transform="translate(678.5 587) rotate(-6)"><rect x="-6" y="-3.4" width="6.5" height="6.8" rx="2.4" fill="#111"/><rect x="0" y="-2" width="10" height="4" fill="#666" stroke="#111" stroke-width="1.3"/></g>
<g transform="translate(677 601.5) rotate(-8)"><rect x="-6" y="-3.4" width="6.5" height="6.8" rx="2.4" fill="#111"/><rect x="0" y="-2" width="10" height="4" fill="#666" stroke="#111" stroke-width="1.3"/></g>
<path d="M689 586 C692.5 585.5 703 584 710 583 C717 582 727.5 580.5 731 580" fill="none" stroke="#222" stroke-width="1.1" />
<path d="M688 600 C691.3 599.1 701 596.1 708 594.5 C715 592.9 726.3 591.2 730 590.6" fill="none" stroke="#222" stroke-width="1.1" />
<line x1="675" y1="591" x2="651" y2="619" stroke="#222" stroke-width="1.2" />
<line x1="673.5" y1="606" x2="653" y2="621" stroke="#222" stroke-width="1.2" />
<path d="M853.7 643.6 C855.1 647 859 657.3 862 664 C865 670.7 870.3 680.7 872 684" fill="none" stroke="#222" stroke-width="1.2" />
<path d="M859 646 C860.3 649.3 864.2 659.8 867 666 C869.8 672.2 874.5 680.2 876 683" fill="none" stroke="#222" stroke-width="1.2" />
<g transform="translate(874 688) rotate(-20)"><rect x="-3.8" y="-2" width="7.6" height="9" rx="3" fill="#111"/><rect x="-2.6" y="-8" width="5.2" height="7" fill="#555" stroke="#111" stroke-width="1.3"/></g>
<g transform="translate(876 709.5) rotate(-20)"><rect x="-3.8" y="-2" width="7.6" height="9" rx="3" fill="#111"/><rect x="-2.6" y="-8" width="5.2" height="7" fill="#555" stroke="#111" stroke-width="1.3"/></g>
<line x1="923" y1="699.5" x2="880.5" y2="687" stroke="#222" stroke-width="1.2" />
<line x1="923.5" y1="703.5" x2="882" y2="710.5" stroke="#222" stroke-width="1.2" />
<path d="M1003.4 785 L659.4 853 L764 1427.5 L1130.6 1373.8" fill="none" stroke="#1c1c1c" stroke-width="1.4" />
<path d="M1181.2 1364.4 L1499 1302.5 L1398.4 700.6 L1075.3 768.6" fill="none" stroke="#1c1c1c" stroke-width="1.4" />
<line x1="1039.4" y1="775.6" x2="1140" y2="1321.3" stroke="#333" stroke-width="1.2" stroke-dasharray="11 3 2 3"/>
<text x="1011" y="795" font-family="Liberation Sans, sans-serif" font-size="20" fill="#8a8a8a" textLength="17" lengthAdjust="spacingAndGlyphs">DX</text>
<text x="1057" y="795" font-family="Liberation Sans, sans-serif" font-size="20" fill="#8a8a8a" textLength="16" lengthAdjust="spacingAndGlyphs">SX</text>
<path d="M781 855.2 L801.5 853.6" fill="none" stroke="#1c1c1c" stroke-width="3.2" />
<path d="M783 858 L784.5 865 L799 863.8 L800 856.5" fill="#fcfcfc" stroke="#1c1c1c" stroke-width="1.3" />
<path d="M790 866 L791.5 879 L799 878.3 L798 865" fill="#fcfcfc" stroke="#1c1c1c" stroke-width="1.3" />
<path d="M786 852.5 L786.5 850 L796 849.3 L796.5 852" fill="none" stroke="#1c1c1c" stroke-width="1.3" />
<line x1="804" y1="858" x2="830.5" y2="859.7" stroke="#555" stroke-width="1" stroke-dasharray="5 2.5"/>
<path d="M748.4 991 L754.5 990 L755.5 997 L749.5 998 Z" fill="none" stroke="#1c1c1c" stroke-width="1.3" />
<line x1="726.5" y1="988.6" x2="747.6" y2="993.3" stroke="#555" stroke-width="1" />
<path d="M801.5 920.6 L842.5 1151.2 L848 1151.2 L807.8 920.6 Z" fill="#fcfcfc" stroke="#1c1c1c" stroke-width="1.3" />
<line x1="804.6" y1="915" x2="845.3" y2="1151" stroke="#666" stroke-width="0.8" stroke-dasharray="6 2 1.5 2"/>
<line x1="798" y1="905" x2="803.5" y2="919" stroke="#666" stroke-width="0.8" stroke-dasharray="5 2.5"/>
<path d="M801.8 921 L804.5 936 L810.5 935 L807.8 920.6 Z" fill="none" stroke="#1c1c1c" stroke-width="1.6" />
<line x1="802.8" y1="927" x2="809" y2="926" stroke="#1c1c1c" stroke-width="1.3" />
<path d="M842 1151 L843.5 1160 L849.5 1159 L848 1150.5" fill="none" stroke="#1c1c1c" stroke-width="1.4" />
<path d="M841.8 1162 L843.6 1172 L853.8 1170.5 L852 1160.5 Z" fill="#333" stroke="#1c1c1c" stroke-width="1.6" />
<path d="M845 1174 L846 1180 L852.5 1179 L851.5 1173 Z" fill="#333" stroke="#1c1c1c" stroke-width="1.6" />
<line x1="844" y1="1166.5" x2="852" y2="1165.3" stroke="#ddd" stroke-width="1" />
<line x1="853.8" y1="1082.8" x2="834" y2="1073.4" stroke="#555" stroke-width="1" />
<path d="M887.8 889 L941 1194.4 L961.6 1190.6 L909 885 L887.8 889" fill="#fcfcfc" stroke="#1c1c1c" stroke-width="1.7" />
<line x1="898.4" y1="884" x2="951.3" y2="1195.5" stroke="#666" stroke-width="0.8" stroke-dasharray="6 2 1.5 2"/>
<path d="M888 889.5 L909 885.5" fill="none" stroke="#1c1c1c" stroke-width="2.6" />
<line x1="938.2" y1="1178.2" x2="958.8" y2="1174.4" stroke="#1c1c1c" stroke-width="1.3" />
<line x1="940.2" y1="1189.8" x2="960.8" y2="1186" stroke="#1c1c1c" stroke-width="1.3" />
<circle cx="946.6" cy="1156" r="1.7" fill="none" stroke="#1c1c1c" stroke-width="1"/>
<line x1="956.5" y1="963" x2="925.3" y2="980.3" stroke="#555" stroke-width="1" />
<circle cx="925.3" cy="980.3" r="1.3" fill="#1c1c1c" stroke="#1c1c1c" stroke-width="0.5"/>
<line x1="997" y1="852" x2="1012.8" y2="928.8" stroke="#666" stroke-width="0.8" stroke-dasharray="5 2.5"/>
<line x1="987.5" y1="867.6" x2="1011.3" y2="864.2" stroke="#1c1c1c" stroke-width="5.6" />
<line x1="989" y1="866.8" x2="1010" y2="863.8" stroke="#999" stroke-width="0.9" />
<line x1="991" y1="898" x2="1017.5" y2="892.8" stroke="#1c1c1c" stroke-width="2" />
<line x1="1011" y1="891" x2="1011.5" y2="894" stroke="#1c1c1c" stroke-width="2.4" />
<line x1="996.3" y1="915.8" x2="1020.5" y2="911.7" stroke="#1c1c1c" stroke-width="5" />
<line x1="998" y1="915" x2="1019" y2="911.5" stroke="#ddd" stroke-width="1.4" />
<line x1="1057.3" y1="867.8" x2="1014.4" y2="865" stroke="#555" stroke-width="1" stroke-dasharray="5 2.5"/>
<line x1="1058" y1="875.6" x2="1017.5" y2="892.8" stroke="#555" stroke-width="1" />
<line x1="1059.5" y1="879" x2="1023" y2="910.8" stroke="#555" stroke-width="1" />
<line x1="1002.5" y1="956" x2="1029.5" y2="953" stroke="#1c1c1c" stroke-width="3.2" />
<line x1="1004" y1="955.4" x2="1028" y2="952.7" stroke="#bbb" stroke-width="0.9" />
<path d="M1006.5 966.8 L1028.5 964.2 L1029.3 970.2 L1007.3 972.8 Z" fill="#fcfcfc" stroke="#1c1c1c" stroke-width="1.3" />
<line x1="1015" y1="960" x2="1017.5" y2="975" stroke="#777" stroke-width="0.8" stroke-dasharray="5 2.5"/>
<line x1="1030" y1="953.8" x2="1077.6" y2="961.5" stroke="#555" stroke-width="1" />
<line x1="1030" y1="967" x2="1077.6" y2="963.5" stroke="#555" stroke-width="1" stroke-dasharray="5 2.5"/>
<path d="M1005.6 987.2 L1011.2 1008.8 L1039.4 1156.9 L1040.3 1175.6 L1046.9 1185 L1057 1186 L1064.7 1155 L1041.2 1010.6 L1036.6 983.4 Z" fill="#fcfcfc" stroke="#1c1c1c" stroke-width="1.6" />
<path d="M1005.6 987.4 L1036.4 982.8" fill="none" stroke="#1c1c1c" stroke-width="2.6" />
<line x1="1011" y1="1004.5" x2="1040.5" y2="1000" stroke="#1c1c1c" stroke-width="1.3" />
<line x1="1011.8" y1="1010" x2="1041.3" y2="1005.5" stroke="#1c1c1c" stroke-width="1.3" />
<line x1="1013" y1="1016" x2="1042.5" y2="1011.5" stroke="#777" stroke-width="0.8" stroke-dasharray="5 2.5"/>
<line x1="1028" y1="1008" x2="1053" y2="1160" stroke="#666" stroke-width="0.8" stroke-dasharray="6 2 1.5 2"/>
<path d="M1024.4 988.5 L1026 997.5 L1042.2 995 L1041 990.5 L1036 991 L1035.4 986.8" fill="#fcfcfc" stroke="#1c1c1c" stroke-width="1.6" />
<line x1="1027" y1="992.5" x2="1036" y2="991.2" stroke="#1c1c1c" stroke-width="1.4" />
<line x1="1027.5" y1="995" x2="1039" y2="993.5" stroke="#1c1c1c" stroke-width="1.4" />
<path d="M1036.5 1150 C1036.8 1151.3 1037.6 1155.8 1038.5 1158 C1039.4 1160.2 1041.4 1162.2 1042 1163" fill="none" stroke="#1c1c1c" stroke-width="2.4" />
<path d="M1040.8 1164 C1042.7 1163.8 1047.9 1164 1052 1163 C1056.1 1162 1063.2 1158.8 1065.5 1158" fill="none" stroke="#1c1c1c" stroke-width="1.3" />
<path d="M1055 1171 L1059 1166.5 L1072 1165.5 L1078 1171 L1079 1188 L1074 1192.5 L1060 1192 L1056 1188 Z" fill="#fcfcfc" stroke="#1c1c1c" stroke-width="2.6" />
<path d="M1058.5 1173.5 L1076 1172.5 L1076.8 1181.5 L1059.5 1182.5 Z" fill="none" stroke="#1c1c1c" stroke-width="2.2" />
<circle cx="1064.3" cy="1178" r="2" fill="none" stroke="#1c1c1c" stroke-width="1.4"/>
<circle cx="1071.6" cy="1177.6" r="2" fill="none" stroke="#1c1c1c" stroke-width="1.4"/>
<line x1="1059.8" y1="1185.5" x2="1077" y2="1184.5" stroke="#1c1c1c" stroke-width="1.3" />
<line x1="1068" y1="1183" x2="1068.3" y2="1192" stroke="#1c1c1c" stroke-width="1.3" />
<path d="M1056 1160 L1060 1157 L1066 1158.5 L1070 1165.5" fill="none" stroke="#1c1c1c" stroke-width="2.2" />
<path d="M1047 1180 L1047.5 1187.5 L1054 1187.5" fill="none" stroke="#1c1c1c" stroke-width="1.4" />
<line x1="995.3" y1="1050" x2="1018.8" y2="1055.6" stroke="#555" stroke-width="1" />
<line x1="1111" y1="828" x2="1125" y2="909.7" stroke="#666" stroke-width="0.8" stroke-dasharray="5 2.5"/>
<line x1="1101.8" y1="847.6" x2="1127" y2="842" stroke="#1c1c1c" stroke-width="6" />
<line x1="1103" y1="846.7" x2="1126" y2="841.6" stroke="#999" stroke-width="0.9" />
<line x1="1105" y1="871.4" x2="1133" y2="866.7" stroke="#1c1c1c" stroke-width="2" />
<line x1="1109.5" y1="891.4" x2="1134" y2="886.3" stroke="#1c1c1c" stroke-width="5" />
<line x1="1111" y1="890.5" x2="1133" y2="885.9" stroke="#ddd" stroke-width="1.4" />
<line x1="1088" y1="858" x2="1101" y2="848" stroke="#555" stroke-width="1" />
<line x1="1090.5" y1="870.5" x2="1105" y2="871.4" stroke="#555" stroke-width="1" />
<line x1="1087.5" y1="880" x2="1108" y2="891.7" stroke="#555" stroke-width="1" />
<line x1="1116" y1="929.8" x2="1141" y2="925.5" stroke="#1c1c1c" stroke-width="3.2" />
<line x1="1117.5" y1="929" x2="1140" y2="925.2" stroke="#bbb" stroke-width="0.9" />
<path d="M1119.8 941 L1143.3 937.6 L1144 943.4 L1120.6 946.8 Z" fill="#fcfcfc" stroke="#1c1c1c" stroke-width="1.3" />
<line x1="1129.5" y1="921" x2="1132.5" y2="949" stroke="#777" stroke-width="0.8" stroke-dasharray="5 2.5"/>
<line x1="1105" y1="945.6" x2="1115" y2="930.8" stroke="#555" stroke-width="1" />
<line x1="1110.5" y1="950.3" x2="1119.8" y2="943.3" stroke="#555" stroke-width="1" />
<path d="M1156 826 L1159.5 839.6 L1177 836.6 L1174.5 822.8 Z" fill="#fcfcfc" stroke="#1c1c1c" stroke-width="1.7" />
<path d="M1156 826.5 L1174.5 823.3" fill="none" stroke="#1c1c1c" stroke-width="2.6" />
<path d="M1162.5 824 L1162 821 L1169.5 819.8 L1170.2 822.7" fill="none" stroke="#1c1c1c" stroke-width="1.4" />
<line x1="1158" y1="833.4" x2="1176" y2="830.4" stroke="#1c1c1c" stroke-width="1.3" />
<line x1="1158.8" y1="836.6" x2="1176.6" y2="833.6" stroke="#1c1c1c" stroke-width="1" />
<line x1="1165.5" y1="817" x2="1168.5" y2="841.5" stroke="#777" stroke-width="0.8" stroke-dasharray="5 2.5"/>
<line x1="1178.4" y1="827.7" x2="1208" y2="816" stroke="#555" stroke-width="1" />
<path d="M1170.6 884.7 L1181.6 882.3 Q1182.5 893 1187.8 899.5 L1187.5 902.5 L1169.3 904.5 L1169 901 Q1173 893 1170.6 884.7 Z" fill="#fcfcfc" stroke="#1c1c1c" stroke-width="1.5" />
<line x1="1169.6" y1="900.5" x2="1187.6" y2="898.7" stroke="#1c1c1c" stroke-width="1.2" />
<line x1="1175.5" y1="883" x2="1178.5" y2="905" stroke="#777" stroke-width="0.8" stroke-dasharray="5 2.5"/>
<line x1="1180" y1="884" x2="1181.5" y2="897" stroke="#1c1c1c" stroke-width="0.9" />
<line x1="1183" y1="887.8" x2="1212.8" y2="906.6" stroke="#555" stroke-width="1" />
<path d="M1177.7 947.2 L1195.6 944.8 L1198.8 962.8 L1180.8 966 Z" fill="#fcfcfc" stroke="#1c1c1c" stroke-width="1.7" />
<line x1="1186" y1="943" x2="1190" y2="968" stroke="#777" stroke-width="0.8" stroke-dasharray="5 2.5"/>
<line x1="1190.5" y1="946" x2="1193.5" y2="964" stroke="#1c1c1c" stroke-width="0.9" />
<line x1="1198" y1="945.6" x2="1214.4" y2="926.9" stroke="#555" stroke-width="1" />
<path d="M1234.7 825.3 L1287.5 1131.6 L1309 1128.8 L1255.4 822.2 L1234.7 825.3" fill="#fcfcfc" stroke="#1c1c1c" stroke-width="1.7" />
<line x1="1245.1" y1="820.8" x2="1298.2" y2="1133.2" stroke="#666" stroke-width="0.8" stroke-dasharray="6 2 1.5 2"/>
<path d="M1235 826 L1255.4 822.8" fill="none" stroke="#1c1c1c" stroke-width="2.6" />
<line x1="1285.1" y1="1117.8" x2="1306.6" y2="1115" stroke="#1c1c1c" stroke-width="1.3" />
<line x1="1286.9" y1="1127.9" x2="1308.4" y2="1125.1" stroke="#1c1c1c" stroke-width="1.3" />
<circle cx="1293" cy="1093.5" r="1.7" fill="none" stroke="#1c1c1c" stroke-width="1"/>
<line x1="1311" y1="883" x2="1271.4" y2="909" stroke="#555" stroke-width="1" />
<path d="M1121 966.6 L1125.6 987 L1154.8 1147 L1155 1158 L1174 1158 L1179.5 1152.5 L1179.5 1130.5 L1156 988 L1150.6 961.9 Z" fill="#fcfcfc" stroke="#1c1c1c" stroke-width="1.6" />
<path d="M1121 966.8 L1150 962.2" fill="none" stroke="#1c1c1c" stroke-width="2.6" />
<line x1="1125" y1="981.5" x2="1154.5" y2="977" stroke="#1c1c1c" stroke-width="1.3" />
<line x1="1126" y1="987" x2="1155.5" y2="982.5" stroke="#1c1c1c" stroke-width="1.3" />
<line x1="1127.5" y1="993.5" x2="1156.5" y2="989" stroke="#777" stroke-width="0.8" stroke-dasharray="5 2.5"/>
<line x1="1142" y1="985" x2="1166" y2="1120" stroke="#666" stroke-width="0.8" stroke-dasharray="6 2 1.5 2"/>
<path d="M1117.5 971 L1119 978.5 L1124 978" fill="none" stroke="#1c1c1c" stroke-width="1.6" />
<path d="M1123 970 L1125 980.5 L1139.5 978.5 L1138 968" fill="none" stroke="#1c1c1c" stroke-width="1.5" />
<line x1="1124.5" y1="972.5" x2="1138.5" y2="970.5" stroke="#1c1c1c" stroke-width="1.4" />
<line x1="1125" y1="975.5" x2="1139" y2="973.5" stroke="#1c1c1c" stroke-width="1.4" />
<path d="M1153 1096 L1159.5 1095 L1161 1104 L1166 1105 L1167 1120 L1162 1121 L1163.5 1133 L1168 1134 L1167 1147.5 L1158 1147 L1156.5 1133 L1160 1123 L1155 1112 Z" fill="none" stroke="#1c1c1c" stroke-width="1.3" />
<line x1="1156.5" y1="1100" x2="1160" y2="1099.5" stroke="#1c1c1c" stroke-width="1.2" />
<line x1="1158" y1="1108" x2="1165" y2="1109" stroke="#1c1c1c" stroke-width="1.2" />
<line x1="1160" y1="1128" x2="1166" y2="1128" stroke="#1c1c1c" stroke-width="1.2" />
<line x1="1159" y1="1140" x2="1167" y2="1140.5" stroke="#1c1c1c" stroke-width="1.2" />
<path d="M1152 1159 Q1148.5 1160 1149 1167 Q1149.5 1173.5 1153 1174 L1170 1171.5 L1172.5 1166 L1172 1157 L1166 1154 Z" fill="#fcfcfc" stroke="#1c1c1c" stroke-width="1.8" />
<ellipse cx="1151.3" cy="1166.5" rx="2.6" ry="7.3" fill="#333" stroke="#1c1c1c" stroke-width="1.6" transform="rotate(-8 1151.3 1166.5)" />
<path d="M1166 1139 L1172 1141 L1175.5 1148 L1172.5 1158" fill="none" stroke="#1c1c1c" stroke-width="1.6" />
<path d="M1160 1147 L1168 1148 L1170 1156" fill="none" stroke="#1c1c1c" stroke-width="2" />
<line x1="1121.9" y1="1036" x2="1134" y2="1040.6" stroke="#555" stroke-width="1" />
<path d="M1191.5 1031.2 L1208.5 1025.9 M1192.1 1035.0 L1209.2 1029.7 M1192.8 1038.8 L1209.8 1033.5 M1193.4 1042.6 L1210.5 1037.3 M1194.1 1046.4 L1211.2 1041.1 M1194.7 1050.2 L1211.8 1044.9 M1195.4 1054.0 L1212.5 1048.7 M1196.0 1057.8 L1213.1 1052.5 M1196.7 1061.6 L1213.8 1056.3 M1197.3 1065.4 L1214.5 1060.1 M1198.0 1069.2 L1215.1 1063.9 M1198.6 1073.0 L1215.8 1067.7 M1199.3 1076.8 L1216.5 1071.5 M1199.9 1080.6 L1217.1 1075.3 M1200.6 1084.3 L1217.8 1079.0 M1201.2 1088.1 L1218.4 1082.8 M1201.9 1091.9 L1219.1 1086.6 M1202.5 1095.7 L1219.8 1090.4 M1203.2 1099.5 L1220.4 1094.2 M1203.8 1103.3 L1221.1 1098.0 M1204.5 1107.1 L1221.8 1101.8 M1205.1 1110.9 L1222.4 1105.6 M1205.8 1114.7 L1223.1 1109.4 M1206.4 1118.5 L1223.7 1113.2 M1207.1 1122.3 L1224.4 1117.0 M1207.7 1126.1 L1225.1 1120.8 M1208.4 1129.9 L1225.7 1124.6 M1209.0 1133.7 L1226.4 1128.4 " fill="none" stroke="#1c1c1c" stroke-width="2.1" />
<line x1="1191.5" y1="1030" x2="1209" y2="1132.5" stroke="#1c1c1c" stroke-width="1.8" />
<line x1="1208.5" y1="1026.5" x2="1226.4" y2="1129" stroke="#1c1c1c" stroke-width="1.8" />
<line x1="1198.5" y1="1021" x2="1219" y2="1138" stroke="#777" stroke-width="0.8" stroke-dasharray="5 2.5"/>
<line x1="1214.4" y1="1054.7" x2="1229.4" y2="1052.8" stroke="#555" stroke-width="1" stroke-dasharray="5 2.5"/>
<path d="M1357.8 998.4 L1378.4 1114.7 L1388.8 1111.9 L1369 997.5 Z" fill="#fcfcfc" stroke="#1c1c1c" stroke-width="1.5" />
<line x1="1363" y1="1000" x2="1383" y2="1112" stroke="#666" stroke-width="0.8" stroke-dasharray="6 2 1.5 2"/>
<line x1="1375.7" y1="1101.5" x2="1387" y2="1099.5" stroke="#1c1c1c" stroke-width="1.2" />
<circle cx="1381.2" cy="1097.8" r="1.8" fill="#1c1c1c" stroke="#1c1c1c" stroke-width="1"/>
<path d="M1347.5 957 L1365.5 954.5" fill="none" stroke="#1c1c1c" stroke-width="3.4" />
<path d="M1348.5 960 L1350.5 969 L1366.5 966.5 L1364.5 957.5" fill="#fcfcfc" stroke="#1c1c1c" stroke-width="1.5" />
<line x1="1350" y1="964.5" x2="1365.8" y2="962.2" stroke="#1c1c1c" stroke-width="1.3" />
<line x1="1351" y1="972.2" x2="1368.5" y2="969.6" stroke="#1c1c1c" stroke-width="2.2" />
<line x1="1351.8" y1="976.1" x2="1369.2" y2="973.5" stroke="#1c1c1c" stroke-width="2.2" />
<line x1="1352.5" y1="980" x2="1370" y2="977.4" stroke="#1c1c1c" stroke-width="2.2" />
<line x1="1353.2" y1="983.9" x2="1370.8" y2="981.3" stroke="#1c1c1c" stroke-width="2.2" />
<line x1="1354" y1="987.8" x2="1371.5" y2="985.2" stroke="#1c1c1c" stroke-width="2.2" />
<line x1="1354.8" y1="991.7" x2="1372.2" y2="989.1" stroke="#1c1c1c" stroke-width="2.2" />
<path d="M1355.5 995.5 L1371.5 993" fill="none" stroke="#1c1c1c" stroke-width="3.2" />
<line x1="1407.5" y1="1015.3" x2="1376.6" y2="1034" stroke="#555" stroke-width="1" />
<path d="M754.4 1045.3 L784.4 1221.6 L799.4 1218.8 L771.2 1042.5 Z" fill="#fcfcfc" stroke="#1c1c1c" stroke-width="1.4" />
<line x1="762.5" y1="1044" x2="792" y2="1220" stroke="#666" stroke-width="0.8" stroke-dasharray="6 2 1.5 2"/>
<path d="M751.8 1037 L753 1044.4 L771 1042 L769.6 1035.2 Z" fill="#333" stroke="#1c1c1c" stroke-width="1.5" />
<line x1="753" y1="1039.8" x2="770" y2="1037.6" stroke="#ccc" stroke-width="1" />
<line x1="759" y1="1031.5" x2="759.6" y2="1035.5" stroke="#1c1c1c" stroke-width="1.2" />
<line x1="755.6" y1="1052" x2="772.3" y2="1049.2" stroke="#1c1c1c" stroke-width="1.2" />
<line x1="757.7" y1="1064.2" x2="774.3" y2="1061.4" stroke="#1c1c1c" stroke-width="1.2" />
<line x1="781.8" y1="1206" x2="797.2" y2="1203.2" stroke="#1c1c1c" stroke-width="1.2" />
<circle cx="791.5" cy="1210" r="1.5" fill="none" stroke="#1c1c1c" stroke-width="1"/>
<line x1="756.2" y1="1135.3" x2="768.4" y2="1128.8" stroke="#555" stroke-width="1" />
<path d="M865 1197 C859.8 1198 852.3 1200.2 847 1205 C841.7 1209.8 835.4 1218.5 833 1226 C830.6 1233.5 831.5 1242.8 832.5 1250 C833.5 1257.2 834.3 1264.5 838.8 1269.4 C843.2 1274.4 853.4 1278.4 859.4 1279.7 C865.4 1281 870.9 1278.7 875 1277 C879.1 1275.3 880.8 1273.6 883.8 1269.4 C886.8 1265.2 890.8 1258.2 893 1252 C895.2 1245.8 897.5 1239.3 896.9 1231.9 C896.3 1224.5 892.5 1213 889.4 1207.5 C886.2 1202 882.1 1200.8 878 1199 C873.9 1197.2 870.2 1196 865 1197 Z" fill="none" stroke="#1c1c1c" stroke-width="1.4" />
<line x1="846.2" y1="1226.2" x2="861.2" y2="1223.4" stroke="#1c1c1c" stroke-width="2.2" />
<line x1="856.5" y1="1236" x2="861" y2="1272" stroke="#777" stroke-width="0.8" stroke-dasharray="5 2.5"/>
<path d="M853.5 1245 Q853 1241.5 857 1241 Q861.5 1240.5 862.5 1244 L866 1246 L866.8 1253 L864 1256.5 L862.5 1262.5 L867 1263.5 L867.8 1270 L855.5 1271.8 L854.3 1265.5 L859 1264 L857.5 1257.5 L853.5 1255 L852 1248 Z" fill="#333" stroke="#1c1c1c" stroke-width="1.4" />
<line x1="855" y1="1250.5" x2="865" y2="1249.2" stroke="#ddd" stroke-width="1" />
<line x1="858" y1="1268" x2="866" y2="1267" stroke="#ddd" stroke-width="1" />
<line x1="897.8" y1="1231" x2="926.9" y2="1248.8" stroke="#555" stroke-width="1" />
<path d="M792 1268 L794.5 1278 L808.8 1275.6 L806.3 1265.6 Z" fill="#fcfcfc" stroke="#1c1c1c" stroke-width="1.5" />
<path d="M792 1268.3 L806.3 1266" fill="none" stroke="#1c1c1c" stroke-width="2.4" />
<line x1="794" y1="1275.4" x2="808.3" y2="1273" stroke="#1c1c1c" stroke-width="1" />
<line x1="805" y1="1277.8" x2="1139" y2="1367.2" stroke="#555" stroke-width="1" />
<path d="M1050.6 1217.8 L1071.2 1215 L1073 1226.2 L1052.5 1230 Z" fill="#fcfcfc" stroke="#1c1c1c" stroke-width="1.5" />
<line x1="1061" y1="1217" x2="1062.5" y2="1228" stroke="#777" stroke-width="0.8" stroke-dasharray="5 2.5"/>
<line x1="1073.4" y1="1222.8" x2="1122.2" y2="1210.6" stroke="#555" stroke-width="1" />
<path d="M1165.3 1193.8 L1186 1191 L1187.8 1202.2 L1167.2 1206 Z" fill="#fcfcfc" stroke="#1c1c1c" stroke-width="1.5" />
<line x1="1175.5" y1="1192.5" x2="1177" y2="1204" stroke="#777" stroke-width="0.8" stroke-dasharray="5 2.5"/>
<line x1="1155" y1="1203" x2="1165.3" y2="1201.2" stroke="#555" stroke-width="1" stroke-dasharray="5 2.5"/>
<path d="M1085.6 1235 C1095.3 1234.4 1110.9 1236.5 1125 1236 C1139.1 1235.5 1157.5 1232 1170 1232.2 C1182.5 1232.4 1191.9 1233.9 1200 1236.9 C1208.1 1239.9 1214.4 1244.1 1218.8 1250 C1223.1 1255.9 1226.6 1265 1226.2 1272.5 C1225.9 1280 1223.2 1288.1 1216.9 1295 C1210.7 1301.9 1201.2 1308.1 1188.8 1313.8 C1176.2 1319.4 1156.9 1325 1141.9 1328.8 C1126.9 1332.5 1111.2 1336.2 1098.8 1336.2 C1086.2 1336.2 1076 1333.8 1066.9 1328.8 C1057.8 1323.8 1049.1 1314.4 1044.4 1306.2 C1039.7 1298.1 1038.2 1288.8 1038.8 1280 C1039.3 1271.2 1043.3 1260.5 1048 1253.8 C1052.7 1247 1060.6 1242.8 1066.9 1239.7 C1073.2 1236.6 1075.9 1235.6 1085.6 1235 Z" fill="none" stroke="#1c1c1c" stroke-width="1.4" />
<line x1="1074.7" y1="1252.5" x2="1076.8" y2="1260" stroke="#1c1c1c" stroke-width="3" />
<circle cx="1077.5" cy="1262.3" r="2.6" fill="none" stroke="#1c1c1c" stroke-width="1.4"/>
<line x1="1085" y1="1252.5" x2="1087.1" y2="1260" stroke="#1c1c1c" stroke-width="3" />
<circle cx="1087.8" cy="1262.3" r="2.6" fill="none" stroke="#1c1c1c" stroke-width="1.4"/>
<line x1="1066.9" y1="1274.8" x2="1075.3" y2="1274.8" stroke="#1c1c1c" stroke-width="2" />
<line x1="1069.5" y1="1268" x2="1071.3" y2="1281" stroke="#777" stroke-width="0.8" stroke-dasharray="5 2.5"/>
<path d="M1072.2 1286 L1075.2 1300.5 L1073 1301 L1074 1306.3 L1080.4 1305 L1079.4 1300 L1077.8 1300.2 L1075.6 1285.5 Z" fill="none" stroke="#1c1c1c" stroke-width="1.3" />
<line x1="1181.2" y1="1253.4" x2="1190.6" y2="1251.9" stroke="#1c1c1c" stroke-width="2" />
<line x1="1185" y1="1246" x2="1186.8" y2="1259" stroke="#777" stroke-width="0.8" stroke-dasharray="5 2.5"/>
<path d="M1185.6 1263 L1188.5 1281 L1186 1281.5 L1187 1287.6 L1195.6 1286 L1194.6 1280 L1192.2 1280.3 L1189.6 1262.3 Z" fill="none" stroke="#1c1c1c" stroke-width="1.3" />
<line x1="1243" y1="1219" x2="1215" y2="1246.2" stroke="#555" stroke-width="1" stroke-dasharray="9 2"/>
<path d="M1382.2 1141 L1396.2 1138 L1401 1166.2 L1386.9 1169 Z" fill="#fcfcfc" stroke="#1c1c1c" stroke-width="1.6" />
<line x1="1385.8" y1="1162.8" x2="1400.2" y2="1160" stroke="#1c1c1c" stroke-width="1.2" />
<line x1="1388.5" y1="1137" x2="1394.5" y2="1171" stroke="#777" stroke-width="0.8" stroke-dasharray="5 2.5"/>
<line x1="1384" y1="1160.6" x2="1171.9" y2="1358.8" stroke="#555" stroke-width="1" stroke-dasharray="14 2"/>
<line x1="677.5" y1="1144.7" x2="710.3" y2="1138" stroke="#1c1c1c" stroke-width="1.4" />
<line x1="1482.8" y1="990.6" x2="1448.4" y2="998.4" stroke="#1c1c1c" stroke-width="1.4" />
<line x1="111" y1="296" x2="186" y2="332" stroke="#222" stroke-width="1.2" />
<circle cx="98" cy="285" r="16.8" fill="#fcfcfc" stroke="#1a1a1a" stroke-width="1.5"/>
<text x="98" y="293.6" class="lb">1</text>
<circle cx="963.4" cy="169.7" r="16.8" fill="#fcfcfc" stroke="#1a1a1a" stroke-width="1.5"/>
<text x="963.4" y="178.3" class="lb">23</text>
<circle cx="794.4" cy="290" r="16.8" fill="#fcfcfc" stroke="#1a1a1a" stroke-width="1.5"/>
<text x="794.4" y="298.6" class="lb">20</text>
<circle cx="756.5" cy="315" r="16.8" fill="#fcfcfc" stroke="#1a1a1a" stroke-width="1.5"/>
<text x="756.5" y="323.6" class="lb">19</text>
<circle cx="998.4" cy="369" r="16.8" fill="#fcfcfc" stroke="#1a1a1a" stroke-width="1.5"/>
<text x="998.4" y="377.6" class="lb">25</text>
<circle cx="750.6" cy="391" r="16.8" fill="#fcfcfc" stroke="#1a1a1a" stroke-width="1.5"/>
<text x="750.6" y="399.6" class="lb">22</text>
<circle cx="751" cy="427.5" r="16.8" fill="#fcfcfc" stroke="#1a1a1a" stroke-width="1.5"/>
<text x="751" y="436.1" class="lb">26</text>
<circle cx="751.2" cy="465.6" r="16.8" fill="#fcfcfc" stroke="#1a1a1a" stroke-width="1.5"/>
<text x="751.2" y="474.2" class="lb">24</text>
<circle cx="640.6" cy="631" r="16.8" fill="#fcfcfc" stroke="#1a1a1a" stroke-width="1.5"/>
<text x="640.6" y="639.6" class="lb">22</text>
<circle cx="939" cy="701.6" r="16.8" fill="#fcfcfc" stroke="#1a1a1a" stroke-width="1.5"/>
<text x="939" y="710.2" class="lb">22</text>
<circle cx="1224" cy="806.2" r="16.8" fill="#fcfcfc" stroke="#1a1a1a" stroke-width="1.5"/>
<text x="1224" y="814.9" class="lb">12</text>
<circle cx="847.6" cy="857.6" r="16.8" fill="#fcfcfc" stroke="#1a1a1a" stroke-width="1.5"/>
<text x="847.6" y="866.2" class="lb">7</text>
<circle cx="1074.5" cy="867.8" r="16.8" fill="#fcfcfc" stroke="#1a1a1a" stroke-width="1.5"/>
<text x="1074.5" y="876.4" class="lb">17</text>
<circle cx="1325.3" cy="872.2" r="16.8" fill="#fcfcfc" stroke="#1a1a1a" stroke-width="1.5"/>
<text x="1325.3" y="880.8" class="lb">11</text>
<circle cx="1228" cy="915" r="16.8" fill="#fcfcfc" stroke="#1a1a1a" stroke-width="1.5"/>
<text x="1228" y="923.6" class="lb">27</text>
<circle cx="971.7" cy="953.8" r="16.8" fill="#fcfcfc" stroke="#1a1a1a" stroke-width="1.5"/>
<text x="971.7" y="962.4" class="lb">8</text>
<circle cx="1094" cy="960.5" r="16.8" fill="#fcfcfc" stroke="#1a1a1a" stroke-width="1.5"/>
<text x="1094" y="969.1" class="lb">16</text>
<circle cx="709.4" cy="985.5" r="16.8" fill="#fcfcfc" stroke="#1a1a1a" stroke-width="1.5"/>
<text x="709.4" y="994.1" class="lb">16</text>
<circle cx="1498.4" cy="986.6" r="16.8" fill="#fcfcfc" stroke="#1a1a1a" stroke-width="1.5"/>
<text x="1498.4" y="995.2" class="lb">3</text>
<circle cx="1423.4" cy="1005" r="16.8" fill="#fcfcfc" stroke="#1a1a1a" stroke-width="1.5"/>
<text x="1423.4" y="1013.6" class="lb">10</text>
<circle cx="977.5" cy="1047.2" r="16.8" fill="#fcfcfc" stroke="#1a1a1a" stroke-width="1.5"/>
<text x="977.5" y="1055.8" class="lb">9</text>
<circle cx="1106" cy="1032.2" r="16.8" fill="#fcfcfc" stroke="#1a1a1a" stroke-width="1.5"/>
<text x="1106" y="1040.8" class="lb">14</text>
<circle cx="1245.9" cy="1047.2" r="16.8" fill="#fcfcfc" stroke="#1a1a1a" stroke-width="1.5"/>
<text x="1245.9" y="1055.8" class="lb">13</text>
<circle cx="869.7" cy="1090.9" r="16.8" fill="#fcfcfc" stroke="#1a1a1a" stroke-width="1.5"/>
<text x="869.7" y="1099.5" class="lb">5</text>
<circle cx="659.7" cy="1147.9" r="16.8" fill="#fcfcfc" stroke="#1a1a1a" stroke-width="1.5"/>
<text x="659.7" y="1156.5" class="lb">2</text>
<circle cx="740.7" cy="1142.2" r="16.8" fill="#fcfcfc" stroke="#1a1a1a" stroke-width="1.5"/>
<text x="740.7" y="1150.8" class="lb">4</text>
<circle cx="1138.7" cy="1204.4" r="16.8" fill="#fcfcfc" stroke="#1a1a1a" stroke-width="1.5"/>
<text x="1138.7" y="1213" class="lb">16</text>
<circle cx="1254.8" cy="1203.5" r="16.8" fill="#fcfcfc" stroke="#1a1a1a" stroke-width="1.5"/>
<text x="1254.8" y="1212.1" class="lb">15</text>
<circle cx="942.8" cy="1252.5" r="16.8" fill="#fcfcfc" stroke="#1a1a1a" stroke-width="1.5"/>
<text x="942.8" y="1261.1" class="lb">6</text>
<circle cx="1155.4" cy="1367.8" r="16.8" fill="#fcfcfc" stroke="#1a1a1a" stroke-width="1.5"/>
<text x="1155.4" y="1376.3" class="lb">18</text>
</svg>
</div>
</body></html>
